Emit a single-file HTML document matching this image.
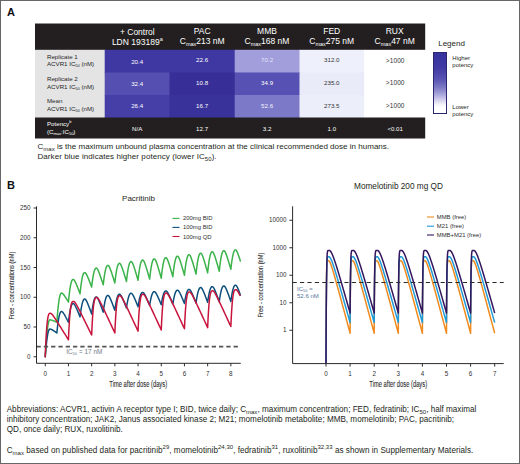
<!DOCTYPE html>
<html><head><meta charset="utf-8"><title>Figure</title>
<style>
html,body{margin:0;padding:0;background:#fff;}
body{width:520px;height:464px;position:relative;overflow:hidden;font-family:"Liberation Sans",sans-serif;color:#231f20;}
#frame{position:absolute;left:0;top:0;width:518px;height:462px;border:1px solid #666;}
.abs{position:absolute;white-space:nowrap;}
.pl{font-weight:bold;font-size:11px;line-height:11px;color:#111;}
.ht{position:absolute;color:#fff;font-size:8.5px;line-height:10.25px;text-align:center;width:80px;white-space:nowrap;}
.ht sub,.ht sup{font-size:5.5px;line-height:0;}
.cell{position:absolute;width:60px;font-size:6.15px;line-height:7px;text-align:center;color:#fff;white-space:nowrap;}
.rl{position:absolute;left:47px;font-size:6.15px;line-height:7.5px;color:#1e1e1e;white-space:nowrap;}
.rl sub,.rl sup{font-size:4px;line-height:0;}
.cap{font-size:8px;line-height:10px;color:#231f20;letter-spacing:0.02px;}
.cap sub,.cap sup{font-size:6px;line-height:0;}
.ft{font-size:8.15px;line-height:10.25px;color:#231f20;}
.ft sub,.ft sup{font-size:6px;line-height:0;}
svg{position:absolute;left:0;top:0;}
svg text{font-family:"Liberation Sans",sans-serif;}
sub{vertical-align:-0.3em;}
sup{vertical-align:0.75em;}
.gt{font-size:6.5px;letter-spacing:0.12px;}
</style></head><body>
<div id="frame"></div>
<div class="abs pl" style="left:7px;top:6.5px;">A</div>
<div class="abs pl" style="left:7px;top:179.5px;">B</div>

<!-- table -->
<svg width="520" height="170" viewBox="0 0 520 170">
<rect x="35" y="23.5" width="390.2" height="27" fill="#231f20"/>
<rect x="35" y="49.8" width="70.3" height="69" fill="#e4e4e4"/>
<rect x="104.7" y="49.8" width="65.4" height="23.3" fill="#3f38a3"/>
<rect x="169.5" y="49.8" width="65.8" height="23.3" fill="#3f38a2"/>
<rect x="234.7" y="49.8" width="65.4" height="23.3" fill="#a19edb"/>
<rect x="299.5" y="49.8" width="65.3" height="23.3" fill="#eef0fb"/>
<rect x="364.2" y="49.8" width="63" height="23.3" fill="#fff"/>
<rect x="104.7" y="72.5" width="65.4" height="23.1" fill="#544fb0"/>
<rect x="169.5" y="72.5" width="65.8" height="23.1" fill="#372f97"/>
<rect x="234.7" y="72.5" width="65.4" height="23.1" fill="#5651b2"/>
<rect x="299.5" y="72.5" width="65.3" height="23.1" fill="#e9ebf9"/>
<rect x="364.2" y="72.5" width="63" height="23.1" fill="#fff"/>
<rect x="104.7" y="95" width="65.4" height="23.1" fill="#463fa8"/>
<rect x="169.5" y="95" width="65.8" height="23.1" fill="#3a329b"/>
<rect x="234.7" y="95" width="65.4" height="23.1" fill="#7d79c9"/>
<rect x="299.5" y="95" width="65.3" height="23.1" fill="#eceefa"/>
<rect x="364.2" y="95" width="63" height="23.1" fill="#fff"/>
<rect x="35" y="117.5" width="390.2" height="21" fill="#231f20"/>
</svg>
<div class="ht" style="left:97.3px;top:26.6px;">+ Control<br>LDN 193189<sup>a</sup></div>
<div class="ht" style="left:162.2px;top:25.6px;">PAC<br>C<sub>max</sub>213 nM</div>
<div class="ht" style="left:227.0px;top:25.6px;">MMB<br>C<sub>max</sub>168 nM</div>
<div class="ht" style="left:291.7px;top:25.6px;">FED<br>C<sub>max</sub>275 nM</div>
<div class="ht" style="left:354.7px;top:25.6px;">RUX<br>C<sub>max</sub>47 nM</div>
<div class="rl" style="top:52.85px;">Replicate 1<br>ACVR1 IC<sub>50</sub> (nM)</div>
<div class="rl" style="top:75.1px;">Replicate 2<br>ACVR1 IC<sub>50</sub> (nM)</div>
<div class="rl" style="top:97.35px;">Mean<br>ACVR1 IC<sub>50</sub> (nM)</div>
<div class="cell" style="left:107.2px;top:58.25px;color:#fff;">20.4</div>
<div class="cell" style="left:172.1px;top:56.40px;color:#fff;">22.6</div>
<div class="cell" style="left:237.1px;top:56.20px;color:#e6e4fa;">70.2</div>
<div class="cell" style="left:301.8px;top:56.20px;color:#333;">312.0</div>
<div class="cell gt" style="left:365.2px;top:56.50px;color:#333;">&gt;1000</div>
<div class="cell" style="left:107.2px;top:80.25px;color:#fff;">32.4</div>
<div class="cell" style="left:172.1px;top:79.00px;color:#fff;">10.8</div>
<div class="cell" style="left:237.1px;top:79.10px;color:#fff;">34.9</div>
<div class="cell" style="left:301.8px;top:79.10px;color:#333;">235.0</div>
<div class="cell gt" style="left:365.2px;top:79.40px;color:#333;">&gt;1000</div>
<div class="cell" style="left:107.2px;top:102.25px;color:#fff;">26.4</div>
<div class="cell" style="left:172.1px;top:101.50px;color:#fff;">16.7</div>
<div class="cell" style="left:237.1px;top:101.60px;color:#f4f3ff;">52.6</div>
<div class="cell" style="left:301.8px;top:101.60px;color:#333;">273.5</div>
<div class="cell gt" style="left:365.2px;top:101.90px;color:#333;">&gt;1000</div>
<div class="rl" style="top:120.2px;color:#fff;line-height:8px;">Potency<sup>b</sup><br>(C<sub>max</sub>:IC<sub>50</sub>)</div>
<div class="cell" style="left:107.2px;top:124.80px;">N/A</div>
<div class="cell" style="left:172.1px;top:124.80px;">12.7</div>
<div class="cell" style="left:237.1px;top:124.80px;">3.2</div>
<div class="cell" style="left:301.8px;top:124.80px;">1.0</div>
<div class="cell" style="left:365.2px;top:124.80px;">&lt;0.01</div>

<div class="abs cap" style="left:37.5px;top:142px;">C<sub>max</sub> is the maximum unbound plasma concentration at the clinical recommended dose in humans.<br><span style="letter-spacing:0.07px">Darker blue indicates higher potency (lower IC<sub>50</sub>).</span></div>

<!-- legend -->
<div class="abs" style="left:438.2px;top:38.7px;font-size:8px;line-height:10px;">Legend</div>
<div class="abs" style="left:433.2px;top:51.5px;width:13.8px;height:62.5px;border:0.6px solid #2a2670;box-sizing:border-box;background:linear-gradient(to bottom,#38329e 0%,#403aa4 25%,#5b56b4 45%,#8b88cd 62%,#c7c5e9 76%,#f4f4fb 86%,#ffffff 90%,#ffffff 100%);"></div>
<div class="abs" style="left:452.3px;top:55.2px;font-size:6px;line-height:7.2px;color:#231f20;">Higher<br>potency</div>
<div class="abs" style="left:452.3px;top:104px;font-size:6px;line-height:7.2px;color:#231f20;">Lower<br>potency</div>

<!-- charts -->
<svg width="520" height="464" viewBox="0 0 520 464">
 <!-- chart A -->
 <text x="138.5" y="200.6" font-size="8" text-anchor="middle" fill="#231f20">Pacritinib</text>
 <g fill="none" stroke-linejoin="round" stroke-linecap="round" stroke-width="1.5">
  <path d="M45.25 356.75 L45.37 354.75 L45.48 352.81 L45.60 350.94 L45.71 349.12 L45.83 347.36 L45.95 345.66 L46.06 344.02 L46.18 342.44 L46.29 340.92 L46.41 339.45 L46.53 338.04 L46.64 336.69 L46.76 335.40 L46.87 334.16 L46.99 332.98 L47.11 331.85 L47.22 330.78 L47.34 329.76 L47.45 328.80 L47.57 327.89 L47.69 327.03 L47.80 326.23 L47.92 325.48 L48.03 324.77 L48.15 324.12 L48.27 323.52 L48.38 322.97 L48.50 322.47 L48.61 322.01 L48.73 321.61 L48.85 321.25 L48.96 320.93 L49.08 320.66 L49.19 320.43 L49.31 320.24 L49.43 320.09 L49.54 319.98 L49.66 319.91 L49.77 319.87 L49.89 319.86 L50.06 319.86 L50.24 319.87 L50.41 319.89 L50.59 319.91 L50.76 319.94 L50.93 319.97 L51.11 320.01 L51.28 320.05 L51.46 320.10 L51.63 320.15 L51.80 320.20 L51.98 320.26 L52.15 320.32 L52.33 320.37 L52.50 320.44 L52.67 320.50 L52.85 320.56 L53.02 320.63 L53.20 320.70 L53.37 320.77 L53.54 320.83 L53.72 320.90 L53.89 320.97 L54.07 321.05 L54.24 321.12 L54.41 321.19 L54.59 321.26 L54.76 321.34 L54.94 321.41 L55.11 321.48 L55.28 321.56 L55.46 321.63 L55.63 321.71 L55.81 321.78 L55.98 321.86 L56.15 321.94 L56.33 322.01 L56.50 322.09 L56.68 322.16 L56.85 322.24 L56.85 322.24 L56.97 320.66 L57.08 319.13 L57.20 317.64 L57.31 316.21 L57.43 314.82 L57.55 313.48 L57.66 312.18 L57.78 310.93 L57.89 309.73 L58.01 308.57 L58.13 307.45 L58.24 306.39 L58.36 305.36 L58.47 304.39 L58.59 303.45 L58.71 302.56 L58.82 301.71 L58.94 300.91 L59.05 300.15 L59.17 299.43 L59.29 298.75 L59.40 298.12 L59.52 297.52 L59.63 296.97 L59.75 296.45 L59.87 295.98 L59.98 295.54 L60.10 295.15 L60.21 294.79 L60.33 294.47 L60.45 294.18 L60.56 293.93 L60.68 293.72 L60.79 293.53 L60.91 293.39 L61.03 293.27 L61.14 293.18 L61.26 293.13 L61.37 293.09 L61.49 293.08 L61.66 293.10 L61.84 293.13 L62.01 293.20 L62.19 293.28 L62.36 293.38 L62.53 293.51 L62.71 293.65 L62.88 293.81 L63.06 293.98 L63.23 294.17 L63.40 294.37 L63.58 294.58 L63.75 294.79 L63.93 295.02 L64.10 295.25 L64.27 295.48 L64.45 295.73 L64.62 295.97 L64.80 296.23 L64.97 296.48 L65.14 296.74 L65.32 297.00 L65.49 297.27 L65.67 297.53 L65.84 297.80 L66.01 298.07 L66.19 298.35 L66.36 298.62 L66.54 298.90 L66.71 299.18 L66.88 299.46 L67.06 299.74 L67.23 300.02 L67.41 300.30 L67.58 300.58 L67.75 300.87 L67.93 301.15 L68.10 301.44 L68.28 301.72 L68.45 302.01 L68.45 302.01 L68.57 300.79 L68.68 299.60 L68.80 298.45 L68.91 297.33 L69.03 296.25 L69.15 295.21 L69.26 294.21 L69.38 293.24 L69.49 292.31 L69.61 291.41 L69.73 290.54 L69.84 289.72 L69.96 288.92 L70.07 288.16 L70.19 287.44 L70.31 286.75 L70.42 286.09 L70.54 285.47 L70.65 284.88 L70.77 284.32 L70.89 283.80 L71.00 283.30 L71.12 282.84 L71.23 282.41 L71.35 282.01 L71.47 281.65 L71.58 281.31 L71.70 281.00 L71.81 280.72 L71.93 280.47 L72.05 280.25 L72.16 280.06 L72.28 279.89 L72.39 279.75 L72.51 279.63 L72.63 279.54 L72.74 279.48 L72.86 279.43 L72.97 279.41 L73.09 279.40 L73.26 279.42 L73.44 279.48 L73.61 279.58 L73.79 279.71 L73.96 279.88 L74.13 280.08 L74.31 280.31 L74.48 280.56 L74.66 280.84 L74.83 281.14 L75.00 281.45 L75.18 281.78 L75.35 282.13 L75.53 282.49 L75.70 282.86 L75.87 283.24 L76.05 283.63 L76.22 284.02 L76.40 284.42 L76.57 284.83 L76.74 285.25 L76.92 285.67 L77.09 286.09 L77.27 286.52 L77.44 286.95 L77.61 287.38 L77.79 287.82 L77.96 288.26 L78.14 288.70 L78.31 289.15 L78.48 289.59 L78.66 290.04 L78.83 290.49 L79.01 290.94 L79.18 291.40 L79.35 291.85 L79.53 292.31 L79.70 292.76 L79.88 293.22 L80.05 293.68 L80.05 293.68 L80.17 292.54 L80.28 291.43 L80.40 290.36 L80.51 289.32 L80.63 288.32 L80.75 287.35 L80.86 286.41 L80.98 285.51 L81.09 284.64 L81.21 283.80 L81.33 283.00 L81.44 282.23 L81.56 281.49 L81.67 280.78 L81.79 280.11 L81.91 279.46 L82.02 278.85 L82.14 278.27 L82.25 277.72 L82.37 277.20 L82.49 276.71 L82.60 276.25 L82.72 275.82 L82.83 275.42 L82.95 275.05 L83.07 274.71 L83.18 274.39 L83.30 274.11 L83.41 273.85 L83.53 273.61 L83.65 273.41 L83.76 273.23 L83.88 273.07 L83.99 272.94 L84.11 272.83 L84.23 272.75 L84.34 272.69 L84.46 272.65 L84.57 272.62 L84.69 272.62 L84.86 272.64 L85.04 272.70 L85.21 272.79 L85.39 272.93 L85.56 273.10 L85.73 273.30 L85.91 273.53 L86.08 273.78 L86.26 274.06 L86.43 274.36 L86.60 274.68 L86.78 275.01 L86.95 275.36 L87.13 275.72 L87.30 276.09 L87.47 276.47 L87.65 276.86 L87.82 277.26 L88.00 277.66 L88.17 278.07 L88.34 278.49 L88.52 278.91 L88.69 279.33 L88.87 279.76 L89.04 280.20 L89.21 280.63 L89.39 281.07 L89.56 281.51 L89.74 281.96 L89.91 282.40 L90.08 282.85 L90.26 283.30 L90.43 283.75 L90.61 284.21 L90.78 284.66 L90.95 285.12 L91.13 285.58 L91.30 286.04 L91.48 286.50 L91.65 286.96 L91.65 286.96 L91.77 285.93 L91.88 284.94 L92.00 283.98 L92.11 283.05 L92.23 282.16 L92.35 281.29 L92.46 280.45 L92.58 279.64 L92.69 278.86 L92.81 278.11 L92.93 277.39 L93.04 276.70 L93.16 276.04 L93.27 275.41 L93.39 274.80 L93.51 274.23 L93.62 273.68 L93.74 273.16 L93.85 272.67 L93.97 272.20 L94.09 271.76 L94.20 271.35 L94.32 270.97 L94.43 270.61 L94.55 270.27 L94.67 269.97 L94.78 269.69 L94.90 269.43 L95.01 269.20 L95.13 268.99 L95.25 268.80 L95.36 268.64 L95.48 268.50 L95.59 268.39 L95.71 268.29 L95.83 268.21 L95.94 268.16 L96.06 268.12 L96.17 268.10 L96.29 268.10 L96.46 268.12 L96.64 268.19 L96.81 268.30 L96.99 268.46 L97.16 268.65 L97.33 268.89 L97.51 269.15 L97.68 269.45 L97.86 269.77 L98.03 270.12 L98.20 270.49 L98.38 270.88 L98.55 271.28 L98.73 271.70 L98.90 272.13 L99.07 272.57 L99.25 273.03 L99.42 273.49 L99.60 273.96 L99.77 274.43 L99.94 274.92 L100.12 275.41 L100.29 275.90 L100.47 276.40 L100.64 276.90 L100.81 277.41 L100.99 277.92 L101.16 278.43 L101.34 278.95 L101.51 279.46 L101.68 279.99 L101.86 280.51 L102.03 281.03 L102.21 281.56 L102.38 282.09 L102.55 282.62 L102.73 283.15 L102.90 283.68 L103.08 284.22 L103.25 284.75 L103.25 284.75 L103.37 283.71 L103.48 282.69 L103.60 281.71 L103.71 280.75 L103.83 279.83 L103.95 278.94 L104.06 278.08 L104.18 277.25 L104.29 276.45 L104.41 275.69 L104.53 274.95 L104.64 274.24 L104.76 273.56 L104.87 272.91 L104.99 272.29 L105.11 271.70 L105.22 271.14 L105.34 270.61 L105.45 270.10 L105.57 269.63 L105.69 269.18 L105.80 268.76 L105.92 268.36 L106.03 267.99 L106.15 267.65 L106.27 267.34 L106.38 267.05 L106.50 266.79 L106.61 266.55 L106.73 266.33 L106.85 266.14 L106.96 265.98 L107.08 265.84 L107.19 265.72 L107.31 265.62 L107.43 265.54 L107.54 265.48 L107.66 265.44 L107.77 265.42 L107.89 265.42 L108.06 265.44 L108.24 265.52 L108.41 265.64 L108.59 265.80 L108.76 266.01 L108.93 266.25 L109.11 266.53 L109.28 266.85 L109.46 267.19 L109.63 267.55 L109.80 267.94 L109.98 268.35 L110.15 268.77 L110.33 269.22 L110.50 269.67 L110.67 270.14 L110.85 270.61 L111.02 271.10 L111.20 271.59 L111.37 272.10 L111.54 272.60 L111.72 273.12 L111.89 273.64 L112.07 274.17 L112.24 274.70 L112.41 275.23 L112.59 275.77 L112.76 276.31 L112.94 276.85 L113.11 277.40 L113.28 277.95 L113.46 278.50 L113.63 279.05 L113.81 279.60 L113.98 280.16 L114.15 280.72 L114.33 281.28 L114.50 281.84 L114.68 282.41 L114.85 282.97 L114.85 282.97 L114.97 281.91 L115.08 280.87 L115.20 279.88 L115.31 278.91 L115.43 277.97 L115.55 277.07 L115.66 276.19 L115.78 275.35 L115.89 274.54 L116.01 273.76 L116.13 273.01 L116.24 272.29 L116.36 271.60 L116.47 270.95 L116.59 270.32 L116.71 269.72 L116.82 269.15 L116.94 268.61 L117.05 268.09 L117.17 267.61 L117.29 267.15 L117.40 266.72 L117.52 266.32 L117.63 265.95 L117.75 265.60 L117.87 265.28 L117.98 264.99 L118.10 264.72 L118.21 264.48 L118.33 264.27 L118.45 264.07 L118.56 263.90 L118.68 263.76 L118.79 263.64 L118.91 263.54 L119.03 263.46 L119.14 263.40 L119.26 263.36 L119.37 263.34 L119.49 263.34 L119.66 263.36 L119.84 263.44 L120.01 263.56 L120.19 263.73 L120.36 263.94 L120.53 264.20 L120.71 264.49 L120.88 264.81 L121.06 265.16 L121.23 265.54 L121.40 265.94 L121.58 266.37 L121.75 266.81 L121.93 267.26 L122.10 267.73 L122.27 268.21 L122.45 268.71 L122.62 269.21 L122.80 269.72 L122.97 270.24 L123.14 270.77 L123.32 271.30 L123.49 271.84 L123.67 272.38 L123.84 272.93 L124.01 273.48 L124.19 274.03 L124.36 274.59 L124.54 275.16 L124.71 275.72 L124.88 276.29 L125.06 276.86 L125.23 277.43 L125.41 278.00 L125.58 278.58 L125.75 279.16 L125.93 279.74 L126.10 280.32 L126.28 280.90 L126.45 281.48 L126.45 281.48 L126.57 280.40 L126.68 279.36 L126.80 278.34 L126.91 277.36 L127.03 276.41 L127.15 275.49 L127.26 274.60 L127.38 273.75 L127.49 272.93 L127.61 272.14 L127.73 271.37 L127.84 270.64 L127.96 269.95 L128.07 269.28 L128.19 268.64 L128.31 268.03 L128.42 267.45 L128.54 266.90 L128.65 266.38 L128.77 265.89 L128.89 265.43 L129.00 264.99 L129.12 264.58 L129.23 264.21 L129.35 263.85 L129.47 263.53 L129.58 263.23 L129.70 262.96 L129.81 262.71 L129.93 262.49 L130.05 262.30 L130.16 262.13 L130.28 261.98 L130.39 261.86 L130.51 261.76 L130.63 261.68 L130.74 261.62 L130.86 261.58 L130.97 261.56 L131.09 261.55 L131.26 261.58 L131.44 261.65 L131.61 261.78 L131.79 261.96 L131.96 262.18 L132.13 262.44 L132.31 262.74 L132.48 263.08 L132.66 263.44 L132.83 263.83 L133.00 264.24 L133.18 264.68 L133.35 265.13 L133.53 265.61 L133.70 266.09 L133.87 266.59 L134.05 267.10 L134.22 267.62 L134.40 268.15 L134.57 268.68 L134.74 269.22 L134.92 269.77 L135.09 270.33 L135.27 270.89 L135.44 271.46 L135.61 272.03 L135.79 272.60 L135.96 273.18 L136.14 273.76 L136.31 274.34 L136.48 274.93 L136.66 275.52 L136.83 276.11 L137.01 276.70 L137.18 277.29 L137.35 277.89 L137.53 278.49 L137.70 279.09 L137.88 279.69 L138.05 280.29 L138.05 280.29 L138.17 279.20 L138.28 278.13 L138.40 277.10 L138.51 276.11 L138.63 275.14 L138.75 274.21 L138.86 273.31 L138.98 272.44 L139.09 271.61 L139.21 270.81 L139.33 270.03 L139.44 269.29 L139.56 268.58 L139.67 267.90 L139.79 267.26 L139.91 266.64 L140.02 266.05 L140.14 265.49 L140.25 264.96 L140.37 264.47 L140.49 264.00 L140.60 263.55 L140.72 263.14 L140.83 262.76 L140.95 262.40 L141.07 262.07 L141.18 261.77 L141.30 261.49 L141.41 261.24 L141.53 261.02 L141.65 260.82 L141.76 260.65 L141.88 260.50 L141.99 260.37 L142.11 260.27 L142.23 260.19 L142.34 260.13 L142.46 260.09 L142.57 260.07 L142.69 260.06 L142.86 260.09 L143.04 260.17 L143.21 260.30 L143.39 260.48 L143.56 260.70 L143.73 260.97 L143.91 261.27 L144.08 261.61 L144.26 261.98 L144.43 262.38 L144.60 262.80 L144.78 263.24 L144.95 263.70 L145.13 264.18 L145.30 264.67 L145.47 265.18 L145.65 265.70 L145.82 266.23 L146.00 266.76 L146.17 267.31 L146.34 267.86 L146.52 268.42 L146.69 268.98 L146.87 269.55 L147.04 270.13 L147.21 270.71 L147.39 271.29 L147.56 271.87 L147.74 272.46 L147.91 273.06 L148.08 273.65 L148.26 274.25 L148.43 274.85 L148.61 275.45 L148.78 276.06 L148.95 276.66 L149.13 277.27 L149.30 277.88 L149.48 278.49 L149.65 279.10 L149.65 279.10 L149.77 278.01 L149.88 276.94 L150.00 275.91 L150.11 274.92 L150.23 273.95 L150.35 273.02 L150.46 272.12 L150.58 271.25 L150.69 270.42 L150.81 269.62 L150.93 268.84 L151.04 268.10 L151.16 267.39 L151.27 266.71 L151.39 266.07 L151.51 265.45 L151.62 264.86 L151.74 264.30 L151.85 263.77 L151.97 263.28 L152.09 262.81 L152.20 262.36 L152.32 261.95 L152.43 261.57 L152.55 261.21 L152.67 260.88 L152.78 260.58 L152.90 260.30 L153.01 260.05 L153.13 259.83 L153.25 259.63 L153.36 259.46 L153.48 259.31 L153.59 259.18 L153.71 259.08 L153.83 259.00 L153.94 258.94 L154.06 258.90 L154.17 258.88 L154.29 258.87 L154.46 258.90 L154.64 258.98 L154.81 259.11 L154.99 259.29 L155.16 259.52 L155.33 259.79 L155.51 260.10 L155.68 260.45 L155.86 260.82 L156.03 261.22 L156.20 261.65 L156.38 262.10 L156.55 262.57 L156.73 263.06 L156.90 263.56 L157.07 264.07 L157.25 264.60 L157.42 265.13 L157.60 265.68 L157.77 266.23 L157.94 266.79 L158.12 267.36 L158.29 267.93 L158.47 268.51 L158.64 269.09 L158.81 269.68 L158.99 270.27 L159.16 270.87 L159.34 271.47 L159.51 272.07 L159.68 272.67 L159.86 273.28 L160.03 273.89 L160.21 274.50 L160.38 275.12 L160.55 275.73 L160.73 276.35 L160.90 276.97 L161.08 277.59 L161.25 278.21 L161.25 278.21 L161.37 277.10 L161.48 276.02 L161.60 274.97 L161.71 273.96 L161.83 272.98 L161.95 272.04 L162.06 271.13 L162.18 270.25 L162.29 269.40 L162.41 268.58 L162.53 267.80 L162.64 267.05 L162.76 266.33 L162.87 265.64 L162.99 264.98 L163.11 264.35 L163.22 263.76 L163.34 263.19 L163.45 262.66 L163.57 262.15 L163.69 261.67 L163.80 261.23 L163.92 260.81 L164.03 260.42 L164.15 260.05 L164.27 259.72 L164.38 259.41 L164.50 259.13 L164.61 258.88 L164.73 258.65 L164.85 258.45 L164.96 258.28 L165.08 258.13 L165.19 258.00 L165.31 257.89 L165.43 257.81 L165.54 257.75 L165.66 257.71 L165.77 257.69 L165.89 257.68 L166.06 257.71 L166.24 257.79 L166.41 257.92 L166.59 258.10 L166.76 258.32 L166.93 258.59 L167.11 258.89 L167.28 259.23 L167.46 259.60 L167.63 260.00 L167.80 260.42 L167.98 260.86 L168.15 261.32 L168.33 261.80 L168.50 262.29 L168.67 262.80 L168.85 263.32 L169.02 263.85 L169.20 264.38 L169.37 264.93 L169.54 265.48 L169.72 266.04 L169.89 266.60 L170.07 267.17 L170.24 267.75 L170.41 268.33 L170.59 268.91 L170.76 269.49 L170.94 270.08 L171.11 270.68 L171.28 271.27 L171.46 271.87 L171.63 272.47 L171.81 273.07 L171.98 273.68 L172.15 274.28 L172.33 274.89 L172.50 275.50 L172.68 276.11 L172.85 276.72 L172.85 276.72 L172.97 275.61 L173.08 274.53 L173.20 273.49 L173.31 272.48 L173.43 271.50 L173.55 270.55 L173.66 269.64 L173.78 268.76 L173.89 267.91 L174.01 267.10 L174.13 266.31 L174.24 265.56 L174.36 264.84 L174.47 264.15 L174.59 263.49 L174.71 262.87 L174.82 262.27 L174.94 261.70 L175.05 261.17 L175.17 260.66 L175.29 260.19 L175.40 259.74 L175.52 259.32 L175.63 258.93 L175.75 258.57 L175.87 258.23 L175.98 257.93 L176.10 257.65 L176.21 257.39 L176.33 257.17 L176.45 256.97 L176.56 256.79 L176.68 256.64 L176.79 256.51 L176.91 256.41 L177.03 256.32 L177.14 256.26 L177.26 256.22 L177.37 256.20 L177.49 256.19 L177.66 256.22 L177.84 256.30 L178.01 256.43 L178.19 256.61 L178.36 256.83 L178.53 257.10 L178.71 257.41 L178.88 257.74 L179.06 258.11 L179.23 258.51 L179.40 258.93 L179.58 259.37 L179.75 259.84 L179.93 260.31 L180.10 260.81 L180.27 261.31 L180.45 261.83 L180.62 262.36 L180.80 262.89 L180.97 263.44 L181.14 263.99 L181.32 264.55 L181.49 265.11 L181.67 265.68 L181.84 266.26 L182.01 266.84 L182.19 267.42 L182.36 268.01 L182.54 268.60 L182.71 269.19 L182.88 269.78 L183.06 270.38 L183.23 270.98 L183.41 271.58 L183.58 272.19 L183.75 272.80 L183.93 273.40 L184.10 274.01 L184.28 274.62 L184.45 275.24 L184.45 275.24 L184.57 274.12 L184.68 273.04 L184.80 272.00 L184.91 270.99 L185.03 270.01 L185.15 269.06 L185.26 268.15 L185.38 267.27 L185.49 266.42 L185.61 265.61 L185.73 264.83 L185.84 264.07 L185.96 263.35 L186.07 262.66 L186.19 262.01 L186.31 261.38 L186.42 260.78 L186.54 260.22 L186.65 259.68 L186.77 259.18 L186.89 258.70 L187.00 258.25 L187.12 257.83 L187.23 257.44 L187.35 257.08 L187.47 256.75 L187.58 256.44 L187.70 256.16 L187.81 255.91 L187.93 255.68 L188.05 255.48 L188.16 255.30 L188.28 255.15 L188.39 255.02 L188.51 254.92 L188.63 254.84 L188.74 254.78 L188.86 254.74 L188.97 254.71 L189.09 254.71 L189.26 254.73 L189.44 254.82 L189.61 254.95 L189.79 255.13 L189.96 255.36 L190.13 255.63 L190.31 255.94 L190.48 256.28 L190.66 256.66 L190.83 257.06 L191.00 257.49 L191.18 257.94 L191.35 258.41 L191.53 258.89 L191.70 259.39 L191.87 259.91 L192.05 260.43 L192.22 260.97 L192.40 261.51 L192.57 262.07 L192.74 262.63 L192.92 263.19 L193.09 263.77 L193.27 264.35 L193.44 264.93 L193.61 265.52 L193.79 266.11 L193.96 266.70 L194.14 267.30 L194.31 267.90 L194.48 268.51 L194.66 269.12 L194.83 269.73 L195.01 270.34 L195.18 270.95 L195.35 271.57 L195.53 272.18 L195.70 272.80 L195.88 273.42 L196.05 274.05 L196.05 274.05 L196.17 272.92 L196.28 271.82 L196.40 270.76 L196.51 269.74 L196.63 268.74 L196.75 267.78 L196.86 266.86 L196.98 265.97 L197.09 265.11 L197.21 264.28 L197.33 263.48 L197.44 262.72 L197.56 261.99 L197.67 261.29 L197.79 260.62 L197.91 259.99 L198.02 259.38 L198.14 258.81 L198.25 258.27 L198.37 257.75 L198.49 257.27 L198.60 256.81 L198.72 256.39 L198.83 255.99 L198.95 255.63 L199.07 255.29 L199.18 254.98 L199.30 254.69 L199.41 254.44 L199.53 254.21 L199.65 254.00 L199.76 253.82 L199.88 253.67 L199.99 253.54 L200.11 253.43 L200.23 253.35 L200.34 253.29 L200.46 253.25 L200.57 253.23 L200.69 253.22 L200.86 253.25 L201.04 253.33 L201.21 253.46 L201.39 253.65 L201.56 253.88 L201.73 254.15 L201.91 254.47 L202.08 254.82 L202.26 255.20 L202.43 255.61 L202.60 256.04 L202.78 256.50 L202.95 256.98 L203.13 257.47 L203.30 257.98 L203.47 258.50 L203.65 259.03 L203.82 259.58 L204.00 260.13 L204.17 260.69 L204.34 261.26 L204.52 261.84 L204.69 262.42 L204.87 263.01 L205.04 263.60 L205.21 264.20 L205.39 264.80 L205.56 265.40 L205.74 266.01 L205.91 266.62 L206.08 267.23 L206.26 267.85 L206.43 268.47 L206.61 269.09 L206.78 269.71 L206.95 270.34 L207.13 270.97 L207.30 271.59 L207.48 272.22 L207.65 272.86 L207.65 272.86 L207.77 271.71 L207.88 270.60 L208.00 269.53 L208.11 268.48 L208.23 267.48 L208.35 266.51 L208.46 265.57 L208.58 264.66 L208.69 263.79 L208.81 262.95 L208.93 262.14 L209.04 261.37 L209.16 260.63 L209.27 259.92 L209.39 259.24 L209.51 258.60 L209.62 257.98 L209.74 257.40 L209.85 256.85 L209.97 256.33 L210.09 255.84 L210.20 255.38 L210.32 254.95 L210.43 254.55 L210.55 254.17 L210.67 253.83 L210.78 253.51 L210.90 253.23 L211.01 252.97 L211.13 252.73 L211.25 252.53 L211.36 252.34 L211.48 252.19 L211.59 252.06 L211.71 251.95 L211.83 251.87 L211.94 251.80 L212.06 251.76 L212.17 251.74 L212.29 251.73 L212.46 251.76 L212.64 251.84 L212.81 251.97 L212.99 252.16 L213.16 252.39 L213.33 252.66 L213.51 252.97 L213.68 253.32 L213.86 253.70 L214.03 254.11 L214.20 254.54 L214.38 254.99 L214.55 255.46 L214.73 255.95 L214.90 256.46 L215.07 256.98 L215.25 257.51 L215.42 258.05 L215.60 258.60 L215.77 259.16 L215.94 259.72 L216.12 260.30 L216.29 260.88 L216.47 261.46 L216.64 262.05 L216.81 262.64 L216.99 263.24 L217.16 263.84 L217.34 264.44 L217.51 265.05 L217.68 265.66 L217.86 266.27 L218.03 266.89 L218.21 267.51 L218.38 268.13 L218.55 268.75 L218.73 269.37 L218.90 270.00 L219.08 270.62 L219.25 271.25 L219.25 271.25 L219.37 270.13 L219.48 269.05 L219.60 268.00 L219.71 266.99 L219.83 266.01 L219.95 265.06 L220.06 264.14 L220.18 263.26 L220.29 262.41 L220.41 261.59 L220.53 260.81 L220.64 260.05 L220.76 259.33 L220.87 258.64 L220.99 257.98 L221.11 257.35 L221.22 256.75 L221.34 256.19 L221.45 255.65 L221.57 255.14 L221.69 254.66 L221.80 254.22 L221.92 253.80 L222.03 253.40 L222.15 253.04 L222.27 252.71 L222.38 252.40 L222.50 252.12 L222.61 251.86 L222.73 251.64 L222.85 251.43 L222.96 251.26 L223.08 251.11 L223.19 250.98 L223.31 250.87 L223.43 250.79 L223.54 250.73 L223.66 250.69 L223.77 250.67 L223.89 250.66 L224.06 250.69 L224.24 250.77 L224.41 250.89 L224.59 251.07 L224.76 251.29 L224.93 251.55 L225.11 251.85 L225.28 252.18 L225.46 252.54 L225.63 252.93 L225.80 253.34 L225.98 253.77 L226.15 254.22 L226.33 254.69 L226.50 255.17 L226.67 255.67 L226.85 256.17 L227.02 256.69 L227.20 257.21 L227.37 257.75 L227.54 258.29 L227.72 258.83 L227.89 259.39 L228.07 259.94 L228.24 260.51 L228.41 261.07 L228.59 261.64 L228.76 262.22 L228.94 262.79 L229.11 263.37 L229.28 263.95 L229.46 264.54 L229.63 265.13 L229.81 265.71 L229.98 266.31 L230.15 266.90 L230.33 267.49 L230.50 268.09 L230.68 268.69 L230.85 269.29 L230.85 269.29 L230.97 268.23 L231.08 267.22 L231.20 266.23 L231.31 265.27 L231.43 264.35 L231.55 263.45 L231.66 262.59 L231.78 261.76 L231.89 260.96 L232.01 260.19 L232.13 259.45 L232.24 258.74 L232.36 258.06 L232.47 257.41 L232.59 256.79 L232.71 256.19 L232.82 255.63 L232.94 255.09 L233.05 254.59 L233.17 254.11 L233.29 253.66 L233.40 253.24 L233.52 252.84 L233.63 252.47 L233.75 252.13 L233.87 251.81 L233.98 251.52 L234.10 251.26 L234.21 251.02 L234.33 250.81 L234.45 250.62 L234.56 250.45 L234.68 250.31 L234.79 250.19 L234.91 250.09 L235.03 250.01 L235.14 249.95 L235.26 249.91 L235.37 249.89 L235.49 249.89 L235.66 249.91 L235.84 249.99 L236.01 250.11 L236.19 250.28 L236.36 250.49 L236.53 250.74 L236.71 251.03 L236.88 251.35 L237.06 251.69 L237.23 252.07 L237.40 252.46 L237.58 252.88 L237.75 253.31 L237.93 253.76 L238.10 254.23 L238.27 254.70 L238.45 255.19 L238.62 255.69 L238.80 256.19 L238.97 256.70 L239.14 257.22 L239.32 257.75 L239.49 258.28 L239.67 258.81 L239.84 259.35 L240.01 259.90 L240.19 260.45 L240.36 261.00" stroke="#3bb34a"/>
  <path d="M45.25 356.75 L45.37 355.25 L45.48 353.80 L45.60 352.39 L45.71 351.03 L45.83 349.71 L45.95 348.43 L46.06 347.20 L46.18 346.02 L46.29 344.87 L46.41 343.78 L46.53 342.72 L46.64 341.71 L46.76 340.74 L46.87 339.81 L46.99 338.92 L47.11 338.08 L47.22 337.27 L47.34 336.51 L47.45 335.79 L47.57 335.10 L47.69 334.46 L47.80 333.86 L47.92 333.29 L48.03 332.77 L48.15 332.28 L48.27 331.83 L48.38 331.42 L48.50 331.04 L48.61 330.70 L48.73 330.39 L48.85 330.12 L48.96 329.88 L49.08 329.68 L49.19 329.51 L49.31 329.37 L49.43 329.26 L49.54 329.18 L49.66 329.12 L49.77 329.09 L49.89 329.08 L50.06 329.09 L50.24 329.10 L50.41 329.13 L50.59 329.17 L50.76 329.21 L50.93 329.27 L51.11 329.33 L51.28 329.40 L51.46 329.47 L51.63 329.55 L51.80 329.64 L51.98 329.73 L52.15 329.82 L52.33 329.92 L52.50 330.02 L52.67 330.12 L52.85 330.23 L53.02 330.33 L53.20 330.44 L53.37 330.55 L53.54 330.67 L53.72 330.78 L53.89 330.89 L54.07 331.01 L54.24 331.13 L54.41 331.24 L54.59 331.36 L54.76 331.48 L54.94 331.60 L55.11 331.72 L55.28 331.84 L55.46 331.96 L55.63 332.09 L55.81 332.21 L55.98 332.33 L56.15 332.45 L56.33 332.58 L56.50 332.70 L56.68 332.83 L56.85 332.95 L56.85 332.95 L56.97 331.79 L57.08 330.66 L57.20 329.57 L57.31 328.52 L57.43 327.50 L57.55 326.51 L57.66 325.56 L57.78 324.64 L57.89 323.76 L58.01 322.91 L58.13 322.09 L58.24 321.30 L58.36 320.55 L58.47 319.83 L58.59 319.15 L58.71 318.49 L58.82 317.87 L58.94 317.28 L59.05 316.72 L59.17 316.19 L59.29 315.69 L59.40 315.23 L59.52 314.79 L59.63 314.38 L59.75 314.01 L59.87 313.66 L59.98 313.34 L60.10 313.05 L60.21 312.78 L60.33 312.54 L60.45 312.33 L60.56 312.15 L60.68 311.99 L60.79 311.86 L60.91 311.75 L61.03 311.67 L61.14 311.60 L61.26 311.56 L61.37 311.54 L61.49 311.53 L61.66 311.54 L61.84 311.59 L62.01 311.66 L62.19 311.76 L62.36 311.89 L62.53 312.04 L62.71 312.21 L62.88 312.40 L63.06 312.61 L63.23 312.83 L63.40 313.07 L63.58 313.32 L63.75 313.58 L63.93 313.85 L64.10 314.12 L64.27 314.41 L64.45 314.70 L64.62 315.00 L64.80 315.30 L64.97 315.61 L65.14 315.92 L65.32 316.23 L65.49 316.55 L65.67 316.87 L65.84 317.19 L66.01 317.52 L66.19 317.84 L66.36 318.17 L66.54 318.51 L66.71 318.84 L66.88 319.17 L67.06 319.51 L67.23 319.85 L67.41 320.19 L67.58 320.53 L67.75 320.87 L67.93 321.21 L68.10 321.55 L68.28 321.90 L68.45 322.24 L68.45 322.24 L68.57 321.22 L68.68 320.24 L68.80 319.29 L68.91 318.36 L69.03 317.47 L69.15 316.61 L69.26 315.77 L69.38 314.97 L69.49 314.20 L69.61 313.45 L69.73 312.74 L69.84 312.05 L69.96 311.39 L70.07 310.76 L70.19 310.16 L70.31 309.59 L70.42 309.04 L70.54 308.53 L70.65 308.04 L70.77 307.58 L70.89 307.14 L71.00 306.73 L71.12 306.35 L71.23 305.99 L71.35 305.66 L71.47 305.36 L71.58 305.08 L71.70 304.82 L71.81 304.59 L71.93 304.39 L72.05 304.20 L72.16 304.04 L72.28 303.90 L72.39 303.79 L72.51 303.69 L72.63 303.62 L72.74 303.56 L72.86 303.52 L72.97 303.50 L73.09 303.50 L73.26 303.52 L73.44 303.57 L73.61 303.66 L73.79 303.79 L73.96 303.95 L74.13 304.13 L74.31 304.35 L74.48 304.59 L74.66 304.85 L74.83 305.13 L75.00 305.42 L75.18 305.73 L75.35 306.06 L75.53 306.39 L75.70 306.74 L75.87 307.10 L76.05 307.46 L76.22 307.83 L76.40 308.21 L76.57 308.59 L76.74 308.98 L76.92 309.37 L77.09 309.77 L77.27 310.17 L77.44 310.57 L77.61 310.98 L77.79 311.39 L77.96 311.80 L78.14 312.22 L78.31 312.63 L78.48 313.05 L78.66 313.47 L78.83 313.89 L79.01 314.32 L79.18 314.74 L79.35 315.17 L79.53 315.60 L79.70 316.03 L79.88 316.45 L80.05 316.88 L80.05 316.88 L80.17 315.92 L80.28 314.98 L80.40 314.07 L80.51 313.19 L80.63 312.34 L80.75 311.52 L80.86 310.73 L80.98 309.96 L81.09 309.22 L81.21 308.51 L81.33 307.83 L81.44 307.18 L81.56 306.55 L81.67 305.95 L81.79 305.38 L81.91 304.84 L82.02 304.32 L82.14 303.83 L82.25 303.36 L82.37 302.92 L82.49 302.51 L82.60 302.12 L82.72 301.75 L82.83 301.41 L82.95 301.10 L83.07 300.81 L83.18 300.54 L83.30 300.30 L83.41 300.08 L83.53 299.88 L83.65 299.71 L83.76 299.55 L83.88 299.42 L83.99 299.31 L84.11 299.22 L84.23 299.15 L84.34 299.09 L84.46 299.06 L84.57 299.04 L84.69 299.04 L84.86 299.06 L85.04 299.12 L85.21 299.22 L85.39 299.36 L85.56 299.53 L85.73 299.74 L85.91 299.98 L86.08 300.25 L86.26 300.53 L86.43 300.84 L86.60 301.17 L86.78 301.52 L86.95 301.88 L87.13 302.25 L87.30 302.64 L87.47 303.03 L87.65 303.44 L87.82 303.85 L88.00 304.27 L88.17 304.69 L88.34 305.13 L88.52 305.56 L88.69 306.00 L88.87 306.45 L89.04 306.90 L89.21 307.35 L89.39 307.80 L89.56 308.26 L89.74 308.72 L89.91 309.19 L90.08 309.65 L90.26 310.12 L90.43 310.59 L90.61 311.06 L90.78 311.53 L90.95 312.00 L91.13 312.48 L91.30 312.95 L91.48 313.43 L91.65 313.91 L91.65 313.91 L91.77 312.99 L91.88 312.10 L92.00 311.24 L92.11 310.40 L92.23 309.59 L92.35 308.81 L92.46 308.06 L92.58 307.33 L92.69 306.63 L92.81 305.96 L92.93 305.31 L93.04 304.69 L93.16 304.09 L93.27 303.53 L93.39 302.98 L93.51 302.46 L93.62 301.97 L93.74 301.50 L93.85 301.06 L93.97 300.64 L94.09 300.25 L94.20 299.88 L94.32 299.53 L94.43 299.21 L94.55 298.91 L94.67 298.64 L94.78 298.38 L94.90 298.15 L95.01 297.94 L95.13 297.76 L95.25 297.59 L95.36 297.44 L95.48 297.32 L95.59 297.21 L95.71 297.13 L95.83 297.06 L95.94 297.01 L96.06 296.98 L96.17 296.96 L96.29 296.95 L96.46 296.97 L96.64 297.04 L96.81 297.14 L96.99 297.28 L97.16 297.46 L97.33 297.67 L97.51 297.92 L97.68 298.19 L97.86 298.48 L98.03 298.80 L98.20 299.13 L98.38 299.49 L98.55 299.85 L98.73 300.24 L98.90 300.63 L99.07 301.03 L99.25 301.44 L99.42 301.86 L99.60 302.29 L99.77 302.73 L99.94 303.17 L100.12 303.61 L100.29 304.06 L100.47 304.51 L100.64 304.97 L100.81 305.43 L100.99 305.90 L101.16 306.37 L101.34 306.83 L101.51 307.31 L101.68 307.78 L101.86 308.26 L102.03 308.74 L102.21 309.22 L102.38 309.70 L102.55 310.18 L102.73 310.66 L102.90 311.15 L103.08 311.64 L103.25 312.12 L103.25 312.12 L103.37 311.22 L103.48 310.35 L103.60 309.50 L103.71 308.68 L103.83 307.88 L103.95 307.12 L104.06 306.38 L104.18 305.66 L104.29 304.97 L104.41 304.31 L104.53 303.68 L104.64 303.07 L104.76 302.48 L104.87 301.92 L104.99 301.39 L105.11 300.88 L105.22 300.40 L105.34 299.94 L105.45 299.50 L105.57 299.09 L105.69 298.70 L105.80 298.34 L105.92 298.00 L106.03 297.68 L106.15 297.39 L106.27 297.12 L106.38 296.87 L106.50 296.64 L106.61 296.44 L106.73 296.25 L106.85 296.09 L106.96 295.95 L107.08 295.83 L107.19 295.72 L107.31 295.64 L107.43 295.57 L107.54 295.52 L107.66 295.49 L107.77 295.47 L107.89 295.47 L108.06 295.49 L108.24 295.55 L108.41 295.65 L108.59 295.79 L108.76 295.96 L108.93 296.17 L109.11 296.41 L109.28 296.68 L109.46 296.96 L109.63 297.27 L109.80 297.60 L109.98 297.95 L110.15 298.31 L110.33 298.68 L110.50 299.07 L110.67 299.46 L110.85 299.87 L111.02 300.28 L111.20 300.70 L111.37 301.12 L111.54 301.56 L111.72 301.99 L111.89 302.43 L112.07 302.88 L112.24 303.33 L112.41 303.78 L112.59 304.23 L112.76 304.69 L112.94 305.15 L113.11 305.62 L113.28 306.08 L113.46 306.55 L113.63 307.02 L113.81 307.49 L113.98 307.96 L114.15 308.43 L114.33 308.91 L114.50 309.38 L114.68 309.86 L114.85 310.34 L114.85 310.34 L114.97 309.47 L115.08 308.63 L115.20 307.81 L115.31 307.02 L115.43 306.25 L115.55 305.51 L115.66 304.80 L115.78 304.11 L115.89 303.44 L116.01 302.81 L116.13 302.19 L116.24 301.60 L116.36 301.04 L116.47 300.50 L116.59 299.99 L116.71 299.50 L116.82 299.03 L116.94 298.59 L117.05 298.17 L117.17 297.77 L117.29 297.40 L117.40 297.05 L117.52 296.72 L117.63 296.41 L117.75 296.13 L117.87 295.87 L117.98 295.63 L118.10 295.41 L118.21 295.21 L118.33 295.04 L118.45 294.88 L118.56 294.74 L118.68 294.62 L118.79 294.52 L118.91 294.44 L119.03 294.38 L119.14 294.33 L119.26 294.30 L119.37 294.28 L119.49 294.27 L119.66 294.29 L119.84 294.35 L120.01 294.44 L120.19 294.57 L120.36 294.73 L120.53 294.93 L120.71 295.15 L120.88 295.39 L121.06 295.65 L121.23 295.94 L121.40 296.24 L121.58 296.56 L121.75 296.89 L121.93 297.24 L122.10 297.59 L122.27 297.95 L122.45 298.33 L122.62 298.70 L122.80 299.09 L122.97 299.48 L123.14 299.88 L123.32 300.28 L123.49 300.69 L123.67 301.10 L123.84 301.51 L124.01 301.92 L124.19 302.34 L124.36 302.76 L124.54 303.19 L124.71 303.61 L124.88 304.04 L125.06 304.47 L125.23 304.90 L125.41 305.34 L125.58 305.77 L125.75 306.21 L125.93 306.64 L126.10 307.08 L126.28 307.52 L126.45 307.96 L126.45 307.96 L126.57 307.16 L126.68 306.39 L126.80 305.64 L126.91 304.92 L127.03 304.22 L127.15 303.54 L127.26 302.89 L127.38 302.26 L127.49 301.65 L127.61 301.07 L127.73 300.51 L127.84 299.97 L127.96 299.45 L128.07 298.96 L128.19 298.49 L128.31 298.04 L128.42 297.61 L128.54 297.21 L128.65 296.82 L128.77 296.46 L128.89 296.12 L129.00 295.80 L129.12 295.50 L129.23 295.22 L129.35 294.96 L129.47 294.72 L129.58 294.50 L129.70 294.30 L129.81 294.12 L129.93 293.96 L130.05 293.82 L130.16 293.69 L130.28 293.58 L130.39 293.49 L130.51 293.42 L130.63 293.36 L130.74 293.31 L130.86 293.28 L130.97 293.27 L131.09 293.26 L131.26 293.28 L131.44 293.34 L131.61 293.43 L131.79 293.56 L131.96 293.72 L132.13 293.91 L132.31 294.12 L132.48 294.36 L132.66 294.62 L132.83 294.91 L133.00 295.21 L133.18 295.52 L133.35 295.85 L133.53 296.19 L133.70 296.54 L133.87 296.89 L134.05 297.26 L134.22 297.64 L134.40 298.02 L134.57 298.40 L134.74 298.79 L134.92 299.19 L135.09 299.59 L135.27 300.00 L135.44 300.40 L135.61 300.81 L135.79 301.23 L135.96 301.64 L136.14 302.06 L136.31 302.48 L136.48 302.90 L136.66 303.33 L136.83 303.75 L137.01 304.18 L137.18 304.61 L137.35 305.04 L137.53 305.47 L137.70 305.90 L137.88 306.34 L138.05 306.77 L138.05 306.77 L138.17 306.00 L138.28 305.25 L138.40 304.52 L138.51 303.82 L138.63 303.14 L138.75 302.48 L138.86 301.84 L138.98 301.23 L139.09 300.64 L139.21 300.07 L139.33 299.53 L139.44 299.01 L139.56 298.50 L139.67 298.03 L139.79 297.57 L139.91 297.13 L140.02 296.72 L140.14 296.32 L140.25 295.95 L140.37 295.60 L140.49 295.27 L140.60 294.95 L140.72 294.66 L140.83 294.39 L140.95 294.14 L141.07 293.91 L141.18 293.69 L141.30 293.50 L141.41 293.32 L141.53 293.17 L141.65 293.03 L141.76 292.90 L141.88 292.80 L141.99 292.71 L142.11 292.64 L142.23 292.58 L142.34 292.54 L142.46 292.51 L142.57 292.49 L142.69 292.49 L142.86 292.51 L143.04 292.56 L143.21 292.65 L143.39 292.77 L143.56 292.92 L143.73 293.10 L143.91 293.31 L144.08 293.54 L144.26 293.79 L144.43 294.06 L144.60 294.35 L144.78 294.65 L144.95 294.96 L145.13 295.28 L145.30 295.62 L145.47 295.96 L145.65 296.31 L145.82 296.67 L146.00 297.03 L146.17 297.40 L146.34 297.78 L146.52 298.16 L146.69 298.54 L146.87 298.93 L147.04 299.31 L147.21 299.71 L147.39 300.10 L147.56 300.50 L147.74 300.90 L147.91 301.30 L148.08 301.71 L148.26 302.11 L148.43 302.52 L148.61 302.93 L148.78 303.34 L148.95 303.75 L149.13 304.16 L149.30 304.57 L149.48 304.99 L149.65 305.40 L149.65 305.40 L149.77 304.66 L149.88 303.93 L150.00 303.24 L150.11 302.56 L150.23 301.90 L150.35 301.27 L150.46 300.66 L150.58 300.07 L150.69 299.50 L150.81 298.96 L150.93 298.43 L151.04 297.93 L151.16 297.45 L151.27 296.98 L151.39 296.54 L151.51 296.12 L151.62 295.73 L151.74 295.35 L151.85 294.99 L151.97 294.65 L152.09 294.33 L152.20 294.03 L152.32 293.75 L152.43 293.49 L152.55 293.25 L152.67 293.02 L152.78 292.82 L152.90 292.63 L153.01 292.46 L153.13 292.31 L153.25 292.17 L153.36 292.06 L153.48 291.95 L153.59 291.87 L153.71 291.80 L153.83 291.74 L153.94 291.70 L154.06 291.68 L154.17 291.66 L154.29 291.66 L154.46 291.68 L154.64 291.73 L154.81 291.82 L154.99 291.94 L155.16 292.09 L155.33 292.28 L155.51 292.49 L155.68 292.72 L155.86 292.97 L156.03 293.24 L156.20 293.53 L156.38 293.83 L156.55 294.15 L156.73 294.48 L156.90 294.81 L157.07 295.16 L157.25 295.51 L157.42 295.87 L157.60 296.24 L157.77 296.61 L157.94 296.99 L158.12 297.38 L158.29 297.76 L158.47 298.15 L158.64 298.54 L158.81 298.94 L158.99 299.34 L159.16 299.74 L159.34 300.14 L159.51 300.55 L159.68 300.96 L159.86 301.37 L160.03 301.78 L160.21 302.19 L160.38 302.60 L160.55 303.02 L160.73 303.43 L160.90 303.85 L161.08 304.27 L161.25 304.69 L161.25 304.69 L161.37 303.94 L161.48 303.22 L161.60 302.52 L161.71 301.84 L161.83 301.19 L161.95 300.56 L162.06 299.94 L162.18 299.36 L162.29 298.79 L162.41 298.24 L162.53 297.72 L162.64 297.21 L162.76 296.73 L162.87 296.27 L162.99 295.83 L163.11 295.41 L163.22 295.01 L163.34 294.63 L163.45 294.27 L163.57 293.93 L163.69 293.62 L163.80 293.32 L163.92 293.04 L164.03 292.77 L164.15 292.53 L164.27 292.31 L164.38 292.10 L164.50 291.92 L164.61 291.75 L164.73 291.59 L164.85 291.46 L164.96 291.34 L165.08 291.24 L165.19 291.15 L165.31 291.08 L165.43 291.03 L165.54 290.99 L165.66 290.96 L165.77 290.95 L165.89 290.94 L166.06 290.96 L166.24 291.02 L166.41 291.11 L166.59 291.23 L166.76 291.38 L166.93 291.57 L167.11 291.78 L167.28 292.01 L167.46 292.27 L167.63 292.54 L167.80 292.83 L167.98 293.14 L168.15 293.46 L168.33 293.79 L168.50 294.13 L168.67 294.48 L168.85 294.83 L169.02 295.20 L169.20 295.57 L169.37 295.95 L169.54 296.33 L169.72 296.71 L169.89 297.10 L170.07 297.50 L170.24 297.89 L170.41 298.29 L170.59 298.70 L170.76 299.10 L170.94 299.51 L171.11 299.92 L171.28 300.33 L171.46 300.74 L171.63 301.16 L171.81 301.57 L171.98 301.99 L172.15 302.41 L172.33 302.83 L172.50 303.25 L172.68 303.67 L172.85 304.09 L172.85 304.09 L172.97 303.34 L173.08 302.61 L173.20 301.91 L173.31 301.22 L173.43 300.56 L173.55 299.93 L173.66 299.31 L173.78 298.71 L173.89 298.14 L174.01 297.59 L174.13 297.06 L174.24 296.55 L174.36 296.07 L174.47 295.60 L174.59 295.16 L174.71 294.74 L174.82 294.33 L174.94 293.95 L175.05 293.59 L175.17 293.25 L175.29 292.92 L175.40 292.62 L175.52 292.34 L175.63 292.08 L175.75 291.83 L175.87 291.61 L175.98 291.40 L176.10 291.21 L176.21 291.04 L176.33 290.89 L176.45 290.75 L176.56 290.63 L176.68 290.53 L176.79 290.44 L176.91 290.37 L177.03 290.32 L177.14 290.28 L177.26 290.25 L177.37 290.23 L177.49 290.23 L177.66 290.25 L177.84 290.30 L178.01 290.39 L178.19 290.52 L178.36 290.67 L178.53 290.86 L178.71 291.07 L178.88 291.31 L179.06 291.57 L179.23 291.84 L179.40 292.14 L179.58 292.45 L179.75 292.77 L179.93 293.10 L180.10 293.44 L180.27 293.80 L180.45 294.16 L180.62 294.52 L180.80 294.90 L180.97 295.28 L181.14 295.66 L181.32 296.05 L181.49 296.44 L181.67 296.84 L181.84 297.24 L182.01 297.65 L182.19 298.05 L182.36 298.46 L182.54 298.87 L182.71 299.28 L182.88 299.70 L183.06 300.12 L183.23 300.53 L183.41 300.95 L183.58 301.37 L183.75 301.80 L183.93 302.22 L184.10 302.65 L184.28 303.07 L184.45 303.50 L184.45 303.50 L184.57 302.73 L184.68 301.99 L184.80 301.27 L184.91 300.58 L185.03 299.91 L185.15 299.26 L185.26 298.63 L185.38 298.03 L185.49 297.44 L185.61 296.88 L185.73 296.35 L185.84 295.83 L185.96 295.34 L186.07 294.86 L186.19 294.41 L186.31 293.98 L186.42 293.57 L186.54 293.18 L186.65 292.81 L186.77 292.47 L186.89 292.14 L187.00 291.83 L187.12 291.54 L187.23 291.27 L187.35 291.03 L187.47 290.80 L187.58 290.59 L187.70 290.39 L187.81 290.22 L187.93 290.06 L188.05 289.93 L188.16 289.80 L188.28 289.70 L188.39 289.61 L188.51 289.54 L188.63 289.48 L188.74 289.44 L188.86 289.42 L188.97 289.40 L189.09 289.40 L189.26 289.41 L189.44 289.47 L189.61 289.56 L189.79 289.69 L189.96 289.85 L190.13 290.04 L190.31 290.25 L190.48 290.50 L190.66 290.76 L190.83 291.04 L191.00 291.34 L191.18 291.65 L191.35 291.98 L191.53 292.32 L191.70 292.67 L191.87 293.03 L192.05 293.39 L192.22 293.77 L192.40 294.15 L192.57 294.54 L192.74 294.93 L192.92 295.32 L193.09 295.72 L193.27 296.13 L193.44 296.54 L193.61 296.95 L193.79 297.36 L193.96 297.78 L194.14 298.19 L194.31 298.61 L194.48 299.04 L194.66 299.46 L194.83 299.89 L195.01 300.31 L195.18 300.74 L195.35 301.17 L195.53 301.60 L195.70 302.04 L195.88 302.47 L196.05 302.90 L196.05 302.90 L196.17 302.07 L196.28 301.26 L196.40 300.48 L196.51 299.73 L196.63 298.99 L196.75 298.29 L196.86 297.61 L196.98 296.95 L197.09 296.31 L197.21 295.70 L197.33 295.12 L197.44 294.56 L197.56 294.02 L197.67 293.50 L197.79 293.01 L197.91 292.54 L198.02 292.10 L198.14 291.67 L198.25 291.27 L198.37 290.89 L198.49 290.54 L198.60 290.20 L198.72 289.89 L198.83 289.60 L198.95 289.33 L199.07 289.08 L199.18 288.85 L199.30 288.64 L199.41 288.45 L199.53 288.28 L199.65 288.13 L199.76 288.00 L199.88 287.88 L199.99 287.79 L200.11 287.71 L200.23 287.65 L200.34 287.60 L200.46 287.57 L200.57 287.56 L200.69 287.55 L200.86 287.57 L201.04 287.63 L201.21 287.73 L201.39 287.87 L201.56 288.05 L201.73 288.25 L201.91 288.49 L202.08 288.75 L202.26 289.04 L202.43 289.35 L202.60 289.67 L202.78 290.02 L202.95 290.37 L203.13 290.74 L203.30 291.13 L203.47 291.52 L203.65 291.92 L203.82 292.33 L204.00 292.74 L204.17 293.17 L204.34 293.59 L204.52 294.03 L204.69 294.46 L204.87 294.91 L205.04 295.35 L205.21 295.80 L205.39 296.25 L205.56 296.71 L205.74 297.16 L205.91 297.62 L206.08 298.08 L206.26 298.55 L206.43 299.01 L206.61 299.48 L206.78 299.95 L206.95 300.42 L207.13 300.89 L207.30 301.36 L207.48 301.83 L207.65 302.31 L207.65 302.31 L207.77 301.46 L207.88 300.64 L208.00 299.84 L208.11 299.07 L208.23 298.32 L208.35 297.60 L208.46 296.91 L208.58 296.24 L208.69 295.59 L208.81 294.97 L208.93 294.37 L209.04 293.80 L209.16 293.25 L209.27 292.72 L209.39 292.22 L209.51 291.75 L209.62 291.29 L209.74 290.86 L209.85 290.45 L209.97 290.06 L210.09 289.70 L210.20 289.36 L210.32 289.04 L210.43 288.74 L210.55 288.47 L210.67 288.21 L210.78 287.98 L210.90 287.77 L211.01 287.57 L211.13 287.40 L211.25 287.25 L211.36 287.11 L211.48 287.00 L211.59 286.90 L211.71 286.82 L211.83 286.76 L211.94 286.71 L212.06 286.68 L212.17 286.66 L212.29 286.66 L212.46 286.68 L212.64 286.74 L212.81 286.85 L212.99 286.99 L213.16 287.16 L213.33 287.38 L213.51 287.62 L213.68 287.88 L213.86 288.18 L214.03 288.49 L214.20 288.82 L214.38 289.17 L214.55 289.54 L214.73 289.92 L214.90 290.31 L215.07 290.71 L215.25 291.11 L215.42 291.53 L215.60 291.96 L215.77 292.39 L215.94 292.82 L216.12 293.26 L216.29 293.71 L216.47 294.16 L216.64 294.62 L216.81 295.07 L216.99 295.53 L217.16 296.00 L217.34 296.46 L217.51 296.93 L217.68 297.40 L217.86 297.88 L218.03 298.35 L218.21 298.83 L218.38 299.30 L218.55 299.78 L218.73 300.26 L218.90 300.75 L219.08 301.23 L219.25 301.71 L219.25 301.71 L219.37 300.86 L219.48 300.03 L219.60 299.23 L219.71 298.45 L219.83 297.70 L219.95 296.97 L220.06 296.27 L220.18 295.60 L220.29 294.94 L220.41 294.32 L220.53 293.72 L220.64 293.14 L220.76 292.59 L220.87 292.06 L220.99 291.55 L221.11 291.07 L221.22 290.61 L221.34 290.18 L221.45 289.77 L221.57 289.38 L221.69 289.01 L221.80 288.67 L221.92 288.35 L222.03 288.05 L222.15 287.77 L222.27 287.51 L222.38 287.28 L222.50 287.06 L222.61 286.87 L222.73 286.69 L222.85 286.54 L222.96 286.40 L223.08 286.29 L223.19 286.19 L223.31 286.11 L223.43 286.04 L223.54 286.00 L223.66 285.97 L223.77 285.95 L223.89 285.94 L224.06 285.97 L224.24 286.03 L224.41 286.14 L224.59 286.28 L224.76 286.46 L224.93 286.68 L225.11 286.93 L225.28 287.20 L225.46 287.50 L225.63 287.83 L225.80 288.17 L225.98 288.53 L226.15 288.90 L226.33 289.29 L226.50 289.69 L226.67 290.10 L226.85 290.52 L227.02 290.95 L227.20 291.39 L227.37 291.83 L227.54 292.28 L227.72 292.73 L227.89 293.19 L228.07 293.66 L228.24 294.12 L228.41 294.59 L228.59 295.07 L228.76 295.54 L228.94 296.02 L229.11 296.50 L229.28 296.99 L229.46 297.47 L229.63 297.96 L229.81 298.45 L229.98 298.94 L230.15 299.43 L230.33 299.93 L230.50 300.42 L230.68 300.92 L230.85 301.42 L230.85 301.42 L230.97 300.53 L231.08 299.68 L231.20 298.85 L231.31 298.05 L231.43 297.28 L231.55 296.53 L231.66 295.81 L231.78 295.11 L231.89 294.44 L232.01 293.80 L232.13 293.18 L232.24 292.58 L232.36 292.01 L232.47 291.47 L232.59 290.95 L232.71 290.45 L232.82 289.98 L232.94 289.53 L233.05 289.11 L233.17 288.71 L233.29 288.33 L233.40 287.98 L233.52 287.64 L233.63 287.34 L233.75 287.05 L233.87 286.78 L233.98 286.54 L234.10 286.32 L234.21 286.12 L234.33 285.94 L234.45 285.78 L234.56 285.64 L234.68 285.52 L234.79 285.42 L234.91 285.34 L235.03 285.27 L235.14 285.23 L235.26 285.19 L235.37 285.18 L235.49 285.17 L235.66 285.19 L235.84 285.26 L236.01 285.37 L236.19 285.51 L236.36 285.70 L236.53 285.92 L236.71 286.17 L236.88 286.45 L237.06 286.75 L237.23 287.08 L237.40 287.42 L237.58 287.79 L237.75 288.16 L237.93 288.56 L238.10 288.96 L238.27 289.38 L238.45 289.80 L238.62 290.24 L238.80 290.68 L238.97 291.13 L239.14 291.58 L239.32 292.04 L239.49 292.50 L239.67 292.97 L239.84 293.44 L240.01 293.92 L240.19 294.40 L240.36 294.88" stroke="#0d4f7c"/>
  <path d="M45.25 356.75 L45.38 353.37 L45.51 350.18 L45.63 347.16 L45.76 344.32 L45.89 341.65 L46.02 339.14 L46.14 336.78 L46.27 334.58 L46.40 332.53 L46.53 330.61 L46.65 328.84 L46.78 327.19 L46.91 325.66 L47.04 324.26 L47.16 322.97 L47.29 321.79 L47.42 320.71 L47.55 319.73 L47.67 318.84 L47.80 318.04 L47.93 317.33 L48.06 316.69 L48.18 316.12 L48.31 315.63 L48.44 315.20 L48.57 314.82 L48.70 314.51 L48.82 314.24 L48.95 314.01 L49.08 313.83 L49.21 313.68 L49.33 313.57 L49.46 313.48 L49.59 313.42 L49.72 313.37 L49.84 313.34 L49.97 313.33 L50.10 313.32 L50.23 313.32 L50.35 313.31 L50.81 313.41 L51.26 313.66 L51.71 314.05 L52.16 314.53 L52.62 315.07 L53.07 315.66 L53.52 316.29 L53.97 316.93 L54.43 317.59 L54.88 318.27 L55.33 318.95 L55.78 319.64 L56.24 320.34 L56.69 321.04 L57.14 321.74 L57.59 322.45 L58.04 323.16 L58.50 323.88 L58.95 324.59 L59.40 325.31 L59.85 326.03 L60.31 326.74 L60.76 327.46 L61.21 328.19 L61.66 328.91 L62.12 329.63 L62.57 330.35 L63.02 331.08 L63.47 331.80 L63.93 332.53 L64.38 333.25 L64.83 333.98 L65.28 334.70 L65.74 335.43 L66.19 336.16 L66.64 336.88 L67.09 337.61 L67.55 338.34 L68.00 339.06 L68.45 339.79 L68.45 339.79 L68.58 336.81 L68.71 333.98 L68.83 331.32 L68.96 328.81 L69.09 326.45 L69.22 324.23 L69.34 322.15 L69.47 320.21 L69.60 318.39 L69.73 316.70 L69.85 315.13 L69.98 313.67 L70.11 312.33 L70.24 311.08 L70.36 309.94 L70.49 308.90 L70.62 307.95 L70.75 307.08 L70.87 306.30 L71.00 305.59 L71.13 304.96 L71.26 304.40 L71.38 303.90 L71.51 303.46 L71.64 303.08 L71.77 302.75 L71.90 302.47 L72.02 302.23 L72.15 302.03 L72.28 301.87 L72.41 301.74 L72.53 301.64 L72.66 301.56 L72.79 301.50 L72.92 301.46 L73.04 301.44 L73.17 301.42 L73.30 301.42 L73.43 301.42 L73.55 301.42 L74.01 301.53 L74.46 301.85 L74.91 302.34 L75.36 302.95 L75.82 303.65 L76.27 304.40 L76.72 305.19 L77.17 306.01 L77.63 306.85 L78.08 307.70 L78.53 308.57 L78.98 309.45 L79.44 310.33 L79.89 311.22 L80.34 312.12 L80.79 313.02 L81.24 313.92 L81.70 314.82 L82.15 315.73 L82.60 316.64 L83.05 317.55 L83.51 318.47 L83.96 319.38 L84.41 320.30 L84.86 321.21 L85.32 322.13 L85.77 323.05 L86.22 323.97 L86.67 324.89 L87.13 325.81 L87.58 326.73 L88.03 327.65 L88.48 328.57 L88.94 329.49 L89.39 330.42 L89.84 331.34 L90.29 332.26 L90.75 333.18 L91.20 334.11 L91.65 335.03 L91.65 335.03 L91.78 332.12 L91.91 329.36 L92.03 326.76 L92.16 324.30 L92.29 322.00 L92.42 319.83 L92.54 317.80 L92.67 315.90 L92.80 314.13 L92.93 312.48 L93.05 310.94 L93.18 309.52 L93.31 308.20 L93.44 306.99 L93.56 305.88 L93.69 304.86 L93.82 303.93 L93.95 303.08 L94.07 302.32 L94.20 301.63 L94.33 301.01 L94.46 300.46 L94.58 299.97 L94.71 299.54 L94.84 299.17 L94.97 298.85 L95.10 298.58 L95.22 298.34 L95.35 298.15 L95.48 297.99 L95.61 297.86 L95.73 297.76 L95.86 297.69 L95.99 297.63 L96.12 297.60 L96.24 297.57 L96.37 297.56 L96.50 297.55 L96.63 297.55 L96.75 297.55 L97.21 297.67 L97.66 298.01 L98.11 298.53 L98.56 299.17 L99.02 299.90 L99.47 300.69 L99.92 301.52 L100.37 302.38 L100.83 303.27 L101.28 304.17 L101.73 305.08 L102.18 306.01 L102.64 306.94 L103.09 307.88 L103.54 308.82 L103.99 309.76 L104.44 310.72 L104.90 311.67 L105.35 312.62 L105.80 313.58 L106.25 314.54 L106.71 315.50 L107.16 316.47 L107.61 317.43 L108.06 318.40 L108.52 319.36 L108.97 320.33 L109.42 321.30 L109.87 322.27 L110.33 323.23 L110.78 324.20 L111.23 325.17 L111.68 326.15 L112.14 327.12 L112.59 328.09 L113.04 329.06 L113.49 330.03 L113.95 331.00 L114.40 331.98 L114.85 332.95 L114.85 332.95 L114.98 330.06 L115.11 327.32 L115.23 324.74 L115.36 322.31 L115.49 320.02 L115.62 317.87 L115.74 315.86 L115.87 313.97 L116.00 312.21 L116.13 310.57 L116.25 309.05 L116.38 307.64 L116.51 306.33 L116.64 305.13 L116.76 304.03 L116.89 303.01 L117.02 302.09 L117.15 301.25 L117.27 300.49 L117.40 299.81 L117.53 299.20 L117.66 298.65 L117.78 298.17 L117.91 297.74 L118.04 297.37 L118.17 297.05 L118.30 296.78 L118.42 296.55 L118.55 296.36 L118.68 296.20 L118.81 296.08 L118.93 295.98 L119.06 295.90 L119.19 295.85 L119.32 295.81 L119.44 295.79 L119.57 295.77 L119.70 295.77 L119.83 295.76 L119.95 295.76 L120.41 295.88 L120.86 296.22 L121.31 296.74 L121.76 297.38 L122.22 298.11 L122.67 298.90 L123.12 299.74 L123.57 300.60 L124.03 301.48 L124.48 302.38 L124.93 303.30 L125.38 304.22 L125.84 305.15 L126.29 306.09 L126.74 307.03 L127.19 307.98 L127.64 308.93 L128.10 309.88 L128.55 310.84 L129.00 311.80 L129.45 312.76 L129.91 313.72 L130.36 314.68 L130.81 315.65 L131.26 316.61 L131.72 317.58 L132.17 318.54 L132.62 319.51 L133.07 320.48 L133.53 321.45 L133.98 322.42 L134.43 323.39 L134.88 324.36 L135.34 325.33 L135.79 326.30 L136.24 327.27 L136.69 328.25 L137.15 329.22 L137.60 330.19 L138.05 331.17 L138.05 331.17 L138.18 328.29 L138.31 325.58 L138.43 323.02 L138.56 320.61 L138.69 318.34 L138.82 316.21 L138.94 314.21 L139.07 312.34 L139.20 310.59 L139.33 308.97 L139.45 307.46 L139.58 306.06 L139.71 304.76 L139.84 303.57 L139.96 302.47 L140.09 301.47 L140.22 300.55 L140.35 299.72 L140.47 298.97 L140.60 298.29 L140.73 297.68 L140.86 297.14 L140.98 296.66 L141.11 296.24 L141.24 295.87 L141.37 295.56 L141.50 295.29 L141.62 295.06 L141.75 294.87 L141.88 294.71 L142.01 294.59 L142.13 294.49 L142.26 294.41 L142.39 294.36 L142.52 294.32 L142.64 294.30 L142.77 294.28 L142.90 294.28 L143.03 294.28 L143.15 294.27 L143.61 294.40 L144.06 294.74 L144.51 295.26 L144.96 295.91 L145.42 296.64 L145.87 297.44 L146.32 298.28 L146.77 299.15 L147.23 300.04 L147.68 300.95 L148.13 301.87 L148.58 302.80 L149.04 303.74 L149.49 304.69 L149.94 305.64 L150.39 306.60 L150.84 307.55 L151.30 308.51 L151.75 309.48 L152.20 310.44 L152.65 311.41 L153.11 312.38 L153.56 313.35 L154.01 314.33 L154.46 315.30 L154.92 316.27 L155.37 317.25 L155.82 318.22 L156.27 319.20 L156.73 320.18 L157.18 321.16 L157.63 322.13 L158.08 323.11 L158.54 324.09 L158.99 325.07 L159.44 326.05 L159.89 327.03 L160.35 328.01 L160.80 328.99 L161.25 329.98 L161.25 329.98 L161.38 327.10 L161.51 324.39 L161.63 321.83 L161.76 319.42 L161.89 317.15 L162.02 315.02 L162.14 313.02 L162.27 311.15 L162.40 309.40 L162.53 307.78 L162.65 306.27 L162.78 304.87 L162.91 303.57 L163.04 302.38 L163.16 301.28 L163.29 300.28 L163.42 299.36 L163.55 298.53 L163.67 297.78 L163.80 297.10 L163.93 296.49 L164.06 295.95 L164.18 295.47 L164.31 295.05 L164.44 294.68 L164.57 294.37 L164.70 294.10 L164.82 293.87 L164.95 293.68 L165.08 293.52 L165.21 293.40 L165.33 293.30 L165.46 293.22 L165.59 293.17 L165.72 293.13 L165.84 293.11 L165.97 293.09 L166.10 293.09 L166.23 293.09 L166.35 293.08 L166.81 293.21 L167.26 293.55 L167.71 294.07 L168.16 294.72 L168.62 295.45 L169.07 296.25 L169.52 297.09 L169.97 297.96 L170.43 298.85 L170.88 299.76 L171.33 300.68 L171.78 301.61 L172.24 302.55 L172.69 303.50 L173.14 304.45 L173.59 305.41 L174.04 306.36 L174.50 307.32 L174.95 308.29 L175.40 309.25 L175.85 310.22 L176.31 311.19 L176.76 312.16 L177.21 313.14 L177.66 314.11 L178.12 315.08 L178.57 316.06 L179.02 317.03 L179.47 318.01 L179.93 318.99 L180.38 319.97 L180.83 320.94 L181.28 321.92 L181.74 322.90 L182.19 323.88 L182.64 324.86 L183.09 325.84 L183.55 326.82 L184.00 327.80 L184.45 328.79 L184.45 328.79 L184.58 325.92 L184.71 323.22 L184.83 320.67 L184.96 318.26 L185.09 316.00 L185.22 313.87 L185.34 311.88 L185.47 310.02 L185.60 308.28 L185.73 306.66 L185.85 305.15 L185.98 303.76 L186.11 302.47 L186.24 301.28 L186.36 300.19 L186.49 299.19 L186.62 298.27 L186.75 297.44 L186.87 296.69 L187.00 296.02 L187.13 295.41 L187.26 294.87 L187.38 294.39 L187.51 293.97 L187.64 293.61 L187.77 293.29 L187.90 293.02 L188.02 292.79 L188.15 292.60 L188.28 292.45 L188.41 292.32 L188.53 292.23 L188.66 292.15 L188.79 292.10 L188.92 292.06 L189.04 292.04 L189.17 292.02 L189.30 292.02 L189.43 292.01 L189.55 292.01 L190.01 292.14 L190.46 292.48 L190.91 293.00 L191.36 293.64 L191.82 294.38 L192.27 295.17 L192.72 296.01 L193.17 296.87 L193.63 297.76 L194.08 298.67 L194.53 299.59 L194.98 300.52 L195.44 301.45 L195.89 302.39 L196.34 303.34 L196.79 304.29 L197.24 305.25 L197.70 306.21 L198.15 307.17 L198.60 308.13 L199.05 309.09 L199.51 310.06 L199.96 311.03 L200.41 312.00 L200.86 312.97 L201.32 313.94 L201.77 314.91 L202.22 315.88 L202.67 316.86 L203.13 317.83 L203.58 318.81 L204.03 319.78 L204.48 320.76 L204.94 321.73 L205.39 322.71 L205.84 323.69 L206.29 324.66 L206.75 325.64 L207.20 326.62 L207.65 327.60 L207.65 327.60 L207.78 324.73 L207.91 322.02 L208.03 319.46 L208.16 317.05 L208.29 314.79 L208.42 312.66 L208.54 310.66 L208.67 308.80 L208.80 307.06 L208.93 305.43 L209.05 303.93 L209.18 302.53 L209.31 301.24 L209.44 300.04 L209.56 298.95 L209.69 297.95 L209.82 297.03 L209.95 296.20 L210.07 295.45 L210.20 294.77 L210.33 294.17 L210.46 293.63 L210.58 293.15 L210.71 292.73 L210.84 292.36 L210.97 292.04 L211.10 291.77 L211.22 291.55 L211.35 291.36 L211.48 291.20 L211.61 291.08 L211.73 290.98 L211.86 290.90 L211.99 290.85 L212.12 290.81 L212.24 290.79 L212.37 290.77 L212.50 290.77 L212.63 290.76 L212.75 290.76 L213.21 290.89 L213.66 291.23 L214.11 291.75 L214.56 292.40 L215.02 293.14 L215.47 293.94 L215.92 294.78 L216.37 295.65 L216.83 296.54 L217.28 297.45 L217.73 298.38 L218.18 299.31 L218.64 300.25 L219.09 301.20 L219.54 302.15 L219.99 303.11 L220.44 304.07 L220.90 305.03 L221.35 305.99 L221.80 306.96 L222.25 307.93 L222.71 308.90 L223.16 309.87 L223.61 310.85 L224.06 311.82 L224.52 312.80 L224.97 313.78 L225.42 314.75 L225.87 315.73 L226.33 316.71 L226.78 317.69 L227.23 318.67 L227.68 319.65 L228.14 320.63 L228.59 321.61 L229.04 322.59 L229.49 323.58 L229.95 324.56 L230.40 325.54 L230.85 326.52 L230.85 326.52 L230.98 323.66 L231.11 320.95 L231.23 318.39 L231.36 315.98 L231.49 313.72 L231.62 311.59 L231.74 309.59 L231.87 307.73 L232.00 305.99 L232.13 304.36 L232.25 302.85 L232.38 301.46 L232.51 300.16 L232.64 298.97 L232.76 297.88 L232.89 296.88 L233.02 295.96 L233.15 295.13 L233.27 294.38 L233.40 293.70 L233.53 293.09 L233.66 292.55 L233.78 292.08 L233.91 291.66 L234.04 291.29 L234.17 290.97 L234.30 290.70 L234.42 290.48 L234.55 290.29 L234.68 290.13 L234.81 290.00 L234.93 289.91 L235.06 289.83 L235.19 289.78 L235.32 289.74 L235.44 289.72 L235.57 289.70 L235.70 289.70 L235.83 289.69 L235.95 289.69 L236.41 289.81 L236.86 290.16 L237.31 290.67 L237.76 291.32 L238.22 292.05 L238.67 292.84 L239.12 293.68 L239.57 294.55 L240.03 295.43" stroke="#c8143c"/>
 </g>
 <line x1="36.5" y1="346.6" x2="240.8" y2="346.6" stroke="#555" stroke-width="1.55" stroke-dasharray="4.3 3"/>
 <g stroke="#2b2b2b" stroke-width="1" fill="none">
  <path d="M36.5 206.3 V363.3 H240.8"/>
  <line x1="33.6" y1="356.75" x2="36.5" y2="356.75"/><line x1="33.6" y1="327.00" x2="36.5" y2="327.00"/><line x1="33.6" y1="297.25" x2="36.5" y2="297.25"/><line x1="33.6" y1="267.50" x2="36.5" y2="267.50"/><line x1="33.6" y1="237.75" x2="36.5" y2="237.75"/><line x1="33.6" y1="208.00" x2="36.5" y2="208.00"/><line x1="45.25" y1="363.3" x2="45.25" y2="366.3"/><line x1="68.45" y1="363.3" x2="68.45" y2="366.3"/><line x1="91.65" y1="363.3" x2="91.65" y2="366.3"/><line x1="114.85" y1="363.3" x2="114.85" y2="366.3"/><line x1="138.05" y1="363.3" x2="138.05" y2="366.3"/><line x1="161.25" y1="363.3" x2="161.25" y2="366.3"/><line x1="184.45" y1="363.3" x2="184.45" y2="366.3"/><line x1="207.65" y1="363.3" x2="207.65" y2="366.3"/><line x1="230.85" y1="363.3" x2="230.85" y2="366.3"/>
 </g>
 <g font-size="6.3" fill="#333"><text x="30.6" y="358.95" text-anchor="end">0</text><text x="30.6" y="329.20" text-anchor="end">50</text><text x="30.6" y="299.45" text-anchor="end">100</text><text x="30.6" y="269.70" text-anchor="end">150</text><text x="30.6" y="239.95" text-anchor="end">200</text><text x="30.6" y="210.20" text-anchor="end">250</text><text x="45.25" y="376" text-anchor="middle">0</text><text x="68.45" y="376" text-anchor="middle">1</text><text x="91.65" y="376" text-anchor="middle">2</text><text x="114.85" y="376" text-anchor="middle">3</text><text x="138.05" y="376" text-anchor="middle">4</text><text x="161.25" y="376" text-anchor="middle">5</text><text x="184.45" y="376" text-anchor="middle">6</text><text x="207.65" y="376" text-anchor="middle">7</text><text x="230.85" y="376" text-anchor="middle">8</text></g>
 <text x="66.2" y="353.7" font-size="6.3" fill="#6f7a86" letter-spacing="0.05">IC<tspan font-size="4" dy="1.2">50</tspan><tspan dy="-1.2"> = 17 nM</tspan></text>
 <g font-size="5.9" fill="#2e2e2e">
  <line x1="172.5" y1="218.4" x2="179.5" y2="218.4" stroke="#3bb34a" stroke-width="1.1"/>
  <text x="183" y="220.4">200mg BID</text>
  <line x1="172.5" y1="227.4" x2="179.5" y2="227.4" stroke="#0d4f7c" stroke-width="1.1"/>
  <text x="183" y="229.4">100mg BID</text>
  <line x1="172.5" y1="236.5" x2="179.5" y2="236.5" stroke="#c8143c" stroke-width="1.1"/>
  <text x="183" y="238.5">100mg QD</text>
 </g>
 <text transform="translate(138.2 387.4) scale(0.675 1)" font-size="8.6" text-anchor="middle" fill="#2b2b2b" stroke="#2b2b2b" stroke-width="0.1">Time after dose (days)</text>
 <text transform="translate(13.6 285.5) rotate(-90) scale(0.72 1)" font-size="8" text-anchor="middle" fill="#2b2b2b" stroke="#2b2b2b" stroke-width="0.1">Free - concentrations (nM)</text>

 <!-- chart B -->
 <text x="398.5" y="188.6" font-size="8.25" text-anchor="middle" fill="#231f20">Momelotinib 200 mg QD</text>
 <g fill="none" stroke-linejoin="round" stroke-linecap="butt" stroke-width="1.5">
  <path d="M326.00 363.50 L326.04 352.08 L326.08 341.77 L326.12 332.47 L326.16 324.10 L326.20 316.58 L326.24 309.83 L326.28 303.80 L326.32 298.41 L326.36 293.61 L326.40 289.34 L326.44 285.56 L326.48 282.21 L326.52 279.25 L326.56 276.65 L326.60 274.37 L326.64 272.37 L326.68 270.62 L326.72 269.11 L326.76 267.79 L326.80 266.65 L326.84 265.68 L326.88 264.84 L326.92 264.12 L326.96 263.51 L327.00 263.00 L327.04 262.56 L327.08 262.20 L327.12 261.90 L327.16 261.65 L327.20 261.44 L327.25 261.27 L327.29 261.13 L327.33 261.02 L327.37 260.93 L327.41 260.86 L327.45 260.80 L327.49 260.76 L327.53 260.73 L327.57 260.70 L327.61 260.68 L327.65 260.67 L327.69 260.66 L327.73 260.65 L327.77 260.64 L327.81 260.64 L327.85 260.64 L327.89 260.64 L327.93 260.64 L327.97 260.64 L328.01 260.63 L328.05 260.63 L328.09 260.63 L328.13 260.63 L328.17 260.63 L328.21 260.63 L328.25 260.63 L328.29 260.63 L328.33 260.63 L328.37 260.63 L328.41 260.63 L328.77 260.74 L329.13 261.03 L329.49 261.50 L329.86 262.13 L330.22 262.89 L330.58 263.75 L330.94 264.69 L331.30 265.70 L331.66 266.76 L332.02 267.87 L332.39 269.01 L332.75 270.18 L333.11 271.37 L333.47 272.58 L333.83 273.81 L334.19 275.05 L334.56 276.30 L334.92 277.57 L335.28 278.84 L335.64 280.12 L336.00 281.40 L336.36 282.69 L336.72 283.99 L337.09 285.29 L337.45 286.59 L337.81 287.90 L338.17 289.21 L338.53 290.53 L338.89 291.84 L339.25 293.16 L339.62 294.48 L339.98 295.80 L340.34 297.13 L340.70 298.45 L341.06 299.78 L341.42 301.11 L341.79 302.44 L342.15 303.77 L342.51 305.10 L342.87 306.43 L343.23 307.77 L343.59 309.10 L343.95 310.44 L344.32 311.77 L344.68 313.11 L345.04 314.45 L345.40 315.78 L345.76 317.12 L346.12 318.46 L346.49 319.80 L346.85 321.14 L347.21 322.48 L347.57 323.82 L347.93 325.16 L348.29 326.50 L348.65 327.85 L349.02 329.19 L349.38 330.53 L349.74 331.87 L350.10 333.22 L350.10 333.22 L350.14 325.16 L350.18 317.88 L350.22 311.32 L350.26 305.42 L350.30 300.11 L350.34 295.35 L350.38 291.09 L350.42 287.29 L350.46 283.90 L350.50 280.89 L350.54 278.22 L350.58 275.86 L350.62 273.77 L350.66 271.93 L350.70 270.32 L350.74 268.91 L350.78 267.68 L350.82 266.61 L350.86 265.68 L350.90 264.88 L350.94 264.19 L350.98 263.60 L351.02 263.10 L351.06 262.67 L351.10 262.30 L351.14 262.00 L351.18 261.74 L351.22 261.53 L351.26 261.35 L351.31 261.20 L351.35 261.08 L351.39 260.98 L351.43 260.91 L351.47 260.84 L351.51 260.79 L351.55 260.75 L351.59 260.72 L351.63 260.70 L351.67 260.68 L351.71 260.67 L351.75 260.66 L351.79 260.65 L351.83 260.64 L351.87 260.64 L351.91 260.64 L351.95 260.64 L351.99 260.64 L352.03 260.64 L352.07 260.63 L352.11 260.63 L352.15 260.63 L352.19 260.63 L352.23 260.63 L352.27 260.63 L352.31 260.63 L352.35 260.63 L352.39 260.63 L352.43 260.63 L352.47 260.63 L352.51 260.63 L352.87 260.74 L353.23 261.03 L353.59 261.50 L353.96 262.13 L354.32 262.89 L354.68 263.75 L355.04 264.69 L355.40 265.70 L355.76 266.76 L356.12 267.87 L356.49 269.01 L356.85 270.18 L357.21 271.37 L357.57 272.58 L357.93 273.81 L358.29 275.05 L358.66 276.30 L359.02 277.57 L359.38 278.84 L359.74 280.12 L360.10 281.40 L360.46 282.69 L360.82 283.99 L361.19 285.29 L361.55 286.59 L361.91 287.90 L362.27 289.21 L362.63 290.53 L362.99 291.84 L363.36 293.16 L363.72 294.48 L364.08 295.80 L364.44 297.13 L364.80 298.45 L365.16 299.78 L365.52 301.11 L365.89 302.44 L366.25 303.77 L366.61 305.10 L366.97 306.43 L367.33 307.77 L367.69 309.10 L368.05 310.44 L368.42 311.77 L368.78 313.11 L369.14 314.45 L369.50 315.78 L369.86 317.12 L370.22 318.46 L370.59 319.80 L370.95 321.14 L371.31 322.48 L371.67 323.82 L372.03 325.16 L372.39 326.50 L372.75 327.85 L373.12 329.19 L373.48 330.53 L373.84 331.87 L374.20 333.22 L374.20 333.22 L374.24 325.16 L374.28 317.88 L374.32 311.32 L374.36 305.42 L374.40 300.11 L374.44 295.35 L374.48 291.09 L374.52 287.29 L374.56 283.90 L374.60 280.89 L374.64 278.22 L374.68 275.86 L374.72 273.77 L374.76 271.93 L374.80 270.32 L374.84 268.91 L374.88 267.68 L374.92 266.61 L374.96 265.68 L375.00 264.88 L375.04 264.19 L375.08 263.60 L375.12 263.10 L375.16 262.67 L375.20 262.30 L375.24 262.00 L375.28 261.74 L375.32 261.53 L375.36 261.35 L375.40 261.20 L375.45 261.08 L375.49 260.98 L375.53 260.91 L375.57 260.84 L375.61 260.79 L375.65 260.75 L375.69 260.72 L375.73 260.70 L375.77 260.68 L375.81 260.67 L375.85 260.66 L375.89 260.65 L375.93 260.64 L375.97 260.64 L376.01 260.64 L376.05 260.64 L376.09 260.64 L376.13 260.64 L376.17 260.63 L376.21 260.63 L376.25 260.63 L376.29 260.63 L376.33 260.63 L376.37 260.63 L376.41 260.63 L376.45 260.63 L376.49 260.63 L376.53 260.63 L376.57 260.63 L376.61 260.63 L376.97 260.74 L377.33 261.03 L377.69 261.50 L378.06 262.13 L378.42 262.89 L378.78 263.75 L379.14 264.69 L379.50 265.70 L379.86 266.76 L380.23 267.87 L380.59 269.01 L380.95 270.18 L381.31 271.37 L381.67 272.58 L382.03 273.81 L382.39 275.05 L382.76 276.30 L383.12 277.57 L383.48 278.84 L383.84 280.12 L384.20 281.40 L384.56 282.69 L384.92 283.99 L385.29 285.29 L385.65 286.59 L386.01 287.90 L386.37 289.21 L386.73 290.53 L387.09 291.84 L387.45 293.16 L387.82 294.48 L388.18 295.80 L388.54 297.13 L388.90 298.45 L389.26 299.78 L389.62 301.11 L389.99 302.44 L390.35 303.77 L390.71 305.10 L391.07 306.43 L391.43 307.77 L391.79 309.10 L392.15 310.44 L392.52 311.77 L392.88 313.11 L393.24 314.45 L393.60 315.78 L393.96 317.12 L394.32 318.46 L394.69 319.80 L395.05 321.14 L395.41 322.48 L395.77 323.82 L396.13 325.16 L396.49 326.50 L396.85 327.85 L397.22 329.19 L397.58 330.53 L397.94 331.87 L398.30 333.22 L398.30 333.22 L398.34 325.16 L398.38 317.88 L398.42 311.32 L398.46 305.42 L398.50 300.11 L398.54 295.35 L398.58 291.09 L398.62 287.29 L398.66 283.90 L398.70 280.89 L398.74 278.22 L398.78 275.86 L398.82 273.77 L398.86 271.93 L398.90 270.32 L398.94 268.91 L398.98 267.68 L399.02 266.61 L399.06 265.68 L399.10 264.88 L399.14 264.19 L399.18 263.60 L399.22 263.10 L399.26 262.67 L399.30 262.30 L399.34 262.00 L399.38 261.74 L399.42 261.53 L399.46 261.35 L399.50 261.20 L399.55 261.08 L399.59 260.98 L399.63 260.91 L399.67 260.84 L399.71 260.79 L399.75 260.75 L399.79 260.72 L399.83 260.70 L399.87 260.68 L399.91 260.67 L399.95 260.66 L399.99 260.65 L400.03 260.64 L400.07 260.64 L400.11 260.64 L400.15 260.64 L400.19 260.64 L400.23 260.64 L400.27 260.63 L400.31 260.63 L400.35 260.63 L400.39 260.63 L400.43 260.63 L400.47 260.63 L400.51 260.63 L400.55 260.63 L400.59 260.63 L400.63 260.63 L400.67 260.63 L400.71 260.63 L401.07 260.74 L401.43 261.03 L401.79 261.50 L402.16 262.13 L402.52 262.89 L402.88 263.75 L403.24 264.69 L403.60 265.70 L403.96 266.76 L404.32 267.87 L404.69 269.01 L405.05 270.18 L405.41 271.37 L405.77 272.58 L406.13 273.81 L406.49 275.05 L406.86 276.30 L407.22 277.57 L407.58 278.84 L407.94 280.12 L408.30 281.40 L408.66 282.69 L409.02 283.99 L409.39 285.29 L409.75 286.59 L410.11 287.90 L410.47 289.21 L410.83 290.53 L411.19 291.84 L411.56 293.16 L411.92 294.48 L412.28 295.80 L412.64 297.13 L413.00 298.45 L413.36 299.78 L413.72 301.11 L414.09 302.44 L414.45 303.77 L414.81 305.10 L415.17 306.43 L415.53 307.77 L415.89 309.10 L416.25 310.44 L416.62 311.77 L416.98 313.11 L417.34 314.45 L417.70 315.78 L418.06 317.12 L418.42 318.46 L418.79 319.80 L419.15 321.14 L419.51 322.48 L419.87 323.82 L420.23 325.16 L420.59 326.50 L420.95 327.85 L421.32 329.19 L421.68 330.53 L422.04 331.87 L422.40 333.22 L422.40 333.22 L422.44 325.16 L422.48 317.88 L422.52 311.32 L422.56 305.42 L422.60 300.11 L422.64 295.35 L422.68 291.09 L422.72 287.29 L422.76 283.90 L422.80 280.89 L422.84 278.22 L422.88 275.86 L422.92 273.77 L422.96 271.93 L423.00 270.32 L423.04 268.91 L423.08 267.68 L423.12 266.61 L423.16 265.68 L423.20 264.88 L423.24 264.19 L423.28 263.60 L423.32 263.10 L423.36 262.67 L423.40 262.30 L423.44 262.00 L423.48 261.74 L423.52 261.53 L423.56 261.35 L423.61 261.20 L423.65 261.08 L423.69 260.98 L423.73 260.91 L423.77 260.84 L423.81 260.79 L423.85 260.75 L423.89 260.72 L423.93 260.70 L423.97 260.68 L424.01 260.67 L424.05 260.66 L424.09 260.65 L424.13 260.64 L424.17 260.64 L424.21 260.64 L424.25 260.64 L424.29 260.64 L424.33 260.64 L424.37 260.63 L424.41 260.63 L424.45 260.63 L424.49 260.63 L424.53 260.63 L424.57 260.63 L424.61 260.63 L424.65 260.63 L424.69 260.63 L424.73 260.63 L424.77 260.63 L424.81 260.63 L425.17 260.74 L425.53 261.03 L425.89 261.50 L426.26 262.13 L426.62 262.89 L426.98 263.75 L427.34 264.69 L427.70 265.70 L428.06 266.76 L428.43 267.87 L428.79 269.01 L429.15 270.18 L429.51 271.37 L429.87 272.58 L430.23 273.81 L430.59 275.05 L430.96 276.30 L431.32 277.57 L431.68 278.84 L432.04 280.12 L432.40 281.40 L432.76 282.69 L433.12 283.99 L433.49 285.29 L433.85 286.59 L434.21 287.90 L434.57 289.21 L434.93 290.53 L435.29 291.84 L435.65 293.16 L436.02 294.48 L436.38 295.80 L436.74 297.13 L437.10 298.45 L437.46 299.78 L437.82 301.11 L438.19 302.44 L438.55 303.77 L438.91 305.10 L439.27 306.43 L439.63 307.77 L439.99 309.10 L440.35 310.44 L440.72 311.77 L441.08 313.11 L441.44 314.45 L441.80 315.78 L442.16 317.12 L442.52 318.46 L442.88 319.80 L443.25 321.14 L443.61 322.48 L443.97 323.82 L444.33 325.16 L444.69 326.50 L445.05 327.85 L445.42 329.19 L445.78 330.53 L446.14 331.87 L446.50 333.22 L446.50 333.22 L446.54 325.16 L446.58 317.88 L446.62 311.32 L446.66 305.42 L446.70 300.11 L446.74 295.35 L446.78 291.09 L446.82 287.29 L446.86 283.90 L446.90 280.89 L446.94 278.22 L446.98 275.86 L447.02 273.77 L447.06 271.93 L447.10 270.32 L447.14 268.91 L447.18 267.68 L447.22 266.61 L447.26 265.68 L447.30 264.88 L447.34 264.19 L447.38 263.60 L447.42 263.10 L447.46 262.67 L447.50 262.30 L447.54 262.00 L447.58 261.74 L447.62 261.53 L447.66 261.35 L447.70 261.20 L447.75 261.08 L447.79 260.98 L447.83 260.91 L447.87 260.84 L447.91 260.79 L447.95 260.75 L447.99 260.72 L448.03 260.70 L448.07 260.68 L448.11 260.67 L448.15 260.66 L448.19 260.65 L448.23 260.64 L448.27 260.64 L448.31 260.64 L448.35 260.64 L448.39 260.64 L448.43 260.64 L448.47 260.63 L448.51 260.63 L448.55 260.63 L448.59 260.63 L448.63 260.63 L448.67 260.63 L448.71 260.63 L448.75 260.63 L448.79 260.63 L448.83 260.63 L448.87 260.63 L448.91 260.63 L449.27 260.74 L449.63 261.03 L449.99 261.50 L450.36 262.13 L450.72 262.89 L451.08 263.75 L451.44 264.69 L451.80 265.70 L452.16 266.76 L452.52 267.87 L452.89 269.01 L453.25 270.18 L453.61 271.37 L453.97 272.58 L454.33 273.81 L454.69 275.05 L455.06 276.30 L455.42 277.57 L455.78 278.84 L456.14 280.12 L456.50 281.40 L456.86 282.69 L457.22 283.99 L457.59 285.29 L457.95 286.59 L458.31 287.90 L458.67 289.21 L459.03 290.53 L459.39 291.84 L459.75 293.16 L460.12 294.48 L460.48 295.80 L460.84 297.13 L461.20 298.45 L461.56 299.78 L461.92 301.11 L462.29 302.44 L462.65 303.77 L463.01 305.10 L463.37 306.43 L463.73 307.77 L464.09 309.10 L464.45 310.44 L464.82 311.77 L465.18 313.11 L465.54 314.45 L465.90 315.78 L466.26 317.12 L466.62 318.46 L466.99 319.80 L467.35 321.14 L467.71 322.48 L468.07 323.82 L468.43 325.16 L468.79 326.50 L469.15 327.85 L469.52 329.19 L469.88 330.53 L470.24 331.87 L470.60 333.22 L470.60 333.22 L470.64 325.16 L470.68 317.88 L470.72 311.32 L470.76 305.42 L470.80 300.11 L470.84 295.35 L470.88 291.09 L470.92 287.29 L470.96 283.90 L471.00 280.89 L471.04 278.22 L471.08 275.86 L471.12 273.77 L471.16 271.93 L471.20 270.32 L471.24 268.91 L471.28 267.68 L471.32 266.61 L471.36 265.68 L471.40 264.88 L471.44 264.19 L471.48 263.60 L471.52 263.10 L471.56 262.67 L471.60 262.30 L471.64 262.00 L471.68 261.74 L471.72 261.53 L471.76 261.35 L471.81 261.20 L471.85 261.08 L471.89 260.98 L471.93 260.91 L471.97 260.84 L472.01 260.79 L472.05 260.75 L472.09 260.72 L472.13 260.70 L472.17 260.68 L472.21 260.67 L472.25 260.66 L472.29 260.65 L472.33 260.64 L472.37 260.64 L472.41 260.64 L472.45 260.64 L472.49 260.64 L472.53 260.64 L472.57 260.63 L472.61 260.63 L472.65 260.63 L472.69 260.63 L472.73 260.63 L472.77 260.63 L472.81 260.63 L472.85 260.63 L472.89 260.63 L472.93 260.63 L472.97 260.63 L473.01 260.63 L473.37 260.74 L473.73 261.03 L474.09 261.50 L474.46 262.13 L474.82 262.89 L475.18 263.75 L475.54 264.69 L475.90 265.70 L476.26 266.76 L476.62 267.87 L476.99 269.01 L477.35 270.18 L477.71 271.37 L478.07 272.58 L478.43 273.81 L478.79 275.05 L479.16 276.30 L479.52 277.57 L479.88 278.84 L480.24 280.12 L480.60 281.40 L480.96 282.69 L481.32 283.99 L481.69 285.29 L482.05 286.59 L482.41 287.90 L482.77 289.21 L483.13 290.53 L483.49 291.84 L483.86 293.16 L484.22 294.48 L484.58 295.80 L484.94 297.13 L485.30 298.45 L485.66 299.78 L486.02 301.11 L486.39 302.44 L486.75 303.77 L487.11 305.10 L487.47 306.43 L487.83 307.77 L488.19 309.10 L488.55 310.44 L488.92 311.77 L489.28 313.11 L489.64 314.45 L490.00 315.78 L490.36 317.12 L490.72 318.46 L491.09 319.80 L491.45 321.14 L491.81 322.48 L492.17 323.82 L492.53 325.16 L492.89 326.50 L493.25 327.85 L493.62 329.19 L493.98 330.53 L494.34 331.87 L494.70 333.22" stroke="#ef8a1e"/>
  <path d="M326.00 363.50 L326.05 351.65 L326.10 340.95 L326.14 331.30 L326.19 322.62 L326.24 314.81 L326.29 307.82 L326.34 301.56 L326.39 295.97 L326.43 290.98 L326.48 286.55 L326.53 282.63 L326.58 279.15 L326.63 276.08 L326.67 273.38 L326.72 271.01 L326.77 268.94 L326.82 267.13 L326.87 265.56 L326.92 264.19 L326.96 263.01 L327.01 262.00 L327.06 261.13 L327.11 260.39 L327.16 259.76 L327.20 259.22 L327.25 258.77 L327.30 258.39 L327.35 258.08 L327.40 257.82 L327.45 257.60 L327.49 257.43 L327.54 257.28 L327.59 257.17 L327.64 257.07 L327.69 257.00 L327.74 256.94 L327.78 256.90 L327.83 256.86 L327.88 256.84 L327.93 256.82 L327.98 256.80 L328.02 256.79 L328.07 256.78 L328.12 256.78 L328.17 256.77 L328.22 256.77 L328.27 256.77 L328.31 256.77 L328.36 256.77 L328.41 256.77 L328.46 256.77 L328.51 256.77 L328.55 256.77 L328.60 256.77 L328.65 256.77 L328.70 256.77 L328.75 256.77 L328.80 256.77 L328.84 256.77 L328.89 256.77 L329.25 256.84 L329.60 257.07 L329.95 257.44 L330.31 257.93 L330.66 258.54 L331.01 259.24 L331.37 260.02 L331.72 260.87 L332.07 261.77 L332.43 262.72 L332.78 263.71 L333.13 264.74 L333.49 265.79 L333.84 266.86 L334.19 267.96 L334.55 269.07 L334.90 270.19 L335.25 271.33 L335.61 272.48 L335.96 273.64 L336.31 274.81 L336.67 275.98 L337.02 277.16 L337.38 278.35 L337.73 279.54 L338.08 280.74 L338.44 281.94 L338.79 283.14 L339.14 284.35 L339.50 285.56 L339.85 286.78 L340.20 287.99 L340.56 289.21 L340.91 290.43 L341.26 291.66 L341.62 292.88 L341.97 294.11 L342.32 295.33 L342.68 296.56 L343.03 297.79 L343.38 299.03 L343.74 300.26 L344.09 301.49 L344.44 302.73 L344.80 303.96 L345.15 305.20 L345.50 306.44 L345.86 307.68 L346.21 308.92 L346.57 310.16 L346.92 311.40 L347.27 312.64 L347.63 313.88 L347.98 315.12 L348.33 316.36 L348.69 317.61 L349.04 318.85 L349.39 320.09 L349.75 321.34 L350.10 322.58 L350.10 322.58 L350.15 315.28 L350.20 308.68 L350.24 302.73 L350.29 297.37 L350.34 292.56 L350.39 288.25 L350.44 284.39 L350.49 280.94 L350.53 277.87 L350.58 275.14 L350.63 272.71 L350.68 270.57 L350.73 268.68 L350.77 267.01 L350.82 265.55 L350.87 264.27 L350.92 263.16 L350.97 262.19 L351.02 261.35 L351.06 260.62 L351.11 259.99 L351.16 259.46 L351.21 259.00 L351.26 258.61 L351.31 258.28 L351.35 258.00 L351.40 257.77 L351.45 257.58 L351.50 257.41 L351.55 257.28 L351.59 257.17 L351.64 257.08 L351.69 257.01 L351.74 256.96 L351.79 256.91 L351.84 256.88 L351.88 256.85 L351.93 256.83 L351.98 256.81 L352.03 256.80 L352.08 256.79 L352.12 256.78 L352.17 256.78 L352.22 256.77 L352.27 256.77 L352.32 256.77 L352.37 256.77 L352.41 256.77 L352.46 256.77 L352.51 256.77 L352.56 256.77 L352.61 256.77 L352.65 256.77 L352.70 256.77 L352.75 256.77 L352.80 256.77 L352.85 256.77 L352.90 256.77 L352.94 256.77 L352.99 256.77 L353.35 256.84 L353.70 257.07 L354.05 257.44 L354.41 257.93 L354.76 258.54 L355.11 259.24 L355.47 260.02 L355.82 260.87 L356.17 261.77 L356.53 262.72 L356.88 263.71 L357.23 264.74 L357.59 265.79 L357.94 266.86 L358.29 267.96 L358.65 269.07 L359.00 270.19 L359.35 271.33 L359.71 272.48 L360.06 273.64 L360.41 274.81 L360.77 275.98 L361.12 277.16 L361.48 278.35 L361.83 279.54 L362.18 280.74 L362.54 281.94 L362.89 283.14 L363.24 284.35 L363.60 285.56 L363.95 286.78 L364.30 287.99 L364.66 289.21 L365.01 290.43 L365.36 291.66 L365.72 292.88 L366.07 294.11 L366.42 295.33 L366.78 296.56 L367.13 297.79 L367.48 299.03 L367.84 300.26 L368.19 301.49 L368.54 302.73 L368.90 303.96 L369.25 305.20 L369.60 306.44 L369.96 307.68 L370.31 308.92 L370.67 310.16 L371.02 311.40 L371.37 312.64 L371.73 313.88 L372.08 315.12 L372.43 316.36 L372.79 317.61 L373.14 318.85 L373.49 320.09 L373.85 321.34 L374.20 322.58 L374.20 322.58 L374.25 315.28 L374.30 308.68 L374.34 302.73 L374.39 297.37 L374.44 292.56 L374.49 288.25 L374.54 284.39 L374.59 280.94 L374.63 277.87 L374.68 275.14 L374.73 272.71 L374.78 270.57 L374.83 268.68 L374.87 267.01 L374.92 265.55 L374.97 264.27 L375.02 263.16 L375.07 262.19 L375.12 261.35 L375.16 260.62 L375.21 259.99 L375.26 259.46 L375.31 259.00 L375.36 258.61 L375.40 258.28 L375.45 258.00 L375.50 257.77 L375.55 257.58 L375.60 257.41 L375.65 257.28 L375.69 257.17 L375.74 257.08 L375.79 257.01 L375.84 256.96 L375.89 256.91 L375.94 256.88 L375.98 256.85 L376.03 256.83 L376.08 256.81 L376.13 256.80 L376.18 256.79 L376.22 256.78 L376.27 256.78 L376.32 256.77 L376.37 256.77 L376.42 256.77 L376.47 256.77 L376.51 256.77 L376.56 256.77 L376.61 256.77 L376.66 256.77 L376.71 256.77 L376.75 256.77 L376.80 256.77 L376.85 256.77 L376.90 256.77 L376.95 256.77 L377.00 256.77 L377.04 256.77 L377.09 256.77 L377.45 256.84 L377.80 257.07 L378.15 257.44 L378.51 257.93 L378.86 258.54 L379.21 259.24 L379.57 260.02 L379.92 260.87 L380.27 261.77 L380.63 262.72 L380.98 263.71 L381.33 264.74 L381.69 265.79 L382.04 266.86 L382.39 267.96 L382.75 269.07 L383.10 270.19 L383.45 271.33 L383.81 272.48 L384.16 273.64 L384.51 274.81 L384.87 275.98 L385.22 277.16 L385.58 278.35 L385.93 279.54 L386.28 280.74 L386.64 281.94 L386.99 283.14 L387.34 284.35 L387.70 285.56 L388.05 286.78 L388.40 287.99 L388.76 289.21 L389.11 290.43 L389.46 291.66 L389.82 292.88 L390.17 294.11 L390.52 295.33 L390.88 296.56 L391.23 297.79 L391.58 299.03 L391.94 300.26 L392.29 301.49 L392.64 302.73 L393.00 303.96 L393.35 305.20 L393.70 306.44 L394.06 307.68 L394.41 308.92 L394.77 310.16 L395.12 311.40 L395.47 312.64 L395.83 313.88 L396.18 315.12 L396.53 316.36 L396.89 317.61 L397.24 318.85 L397.59 320.09 L397.95 321.34 L398.30 322.58 L398.30 322.58 L398.35 315.28 L398.40 308.68 L398.44 302.73 L398.49 297.37 L398.54 292.56 L398.59 288.25 L398.64 284.39 L398.69 280.94 L398.73 277.87 L398.78 275.14 L398.83 272.71 L398.88 270.57 L398.93 268.68 L398.97 267.01 L399.02 265.55 L399.07 264.27 L399.12 263.16 L399.17 262.19 L399.22 261.35 L399.26 260.62 L399.31 259.99 L399.36 259.46 L399.41 259.00 L399.46 258.61 L399.50 258.28 L399.55 258.00 L399.60 257.77 L399.65 257.58 L399.70 257.41 L399.75 257.28 L399.79 257.17 L399.84 257.08 L399.89 257.01 L399.94 256.96 L399.99 256.91 L400.04 256.88 L400.08 256.85 L400.13 256.83 L400.18 256.81 L400.23 256.80 L400.28 256.79 L400.32 256.78 L400.37 256.78 L400.42 256.77 L400.47 256.77 L400.52 256.77 L400.57 256.77 L400.61 256.77 L400.66 256.77 L400.71 256.77 L400.76 256.77 L400.81 256.77 L400.85 256.77 L400.90 256.77 L400.95 256.77 L401.00 256.77 L401.05 256.77 L401.10 256.77 L401.14 256.77 L401.19 256.77 L401.55 256.84 L401.90 257.07 L402.25 257.44 L402.61 257.93 L402.96 258.54 L403.31 259.24 L403.67 260.02 L404.02 260.87 L404.37 261.77 L404.73 262.72 L405.08 263.71 L405.43 264.74 L405.79 265.79 L406.14 266.86 L406.49 267.96 L406.85 269.07 L407.20 270.19 L407.55 271.33 L407.91 272.48 L408.26 273.64 L408.61 274.81 L408.97 275.98 L409.32 277.16 L409.68 278.35 L410.03 279.54 L410.38 280.74 L410.74 281.94 L411.09 283.14 L411.44 284.35 L411.80 285.56 L412.15 286.78 L412.50 287.99 L412.86 289.21 L413.21 290.43 L413.56 291.66 L413.92 292.88 L414.27 294.11 L414.62 295.33 L414.98 296.56 L415.33 297.79 L415.68 299.03 L416.04 300.26 L416.39 301.49 L416.74 302.73 L417.10 303.96 L417.45 305.20 L417.80 306.44 L418.16 307.68 L418.51 308.92 L418.87 310.16 L419.22 311.40 L419.57 312.64 L419.93 313.88 L420.28 315.12 L420.63 316.36 L420.99 317.61 L421.34 318.85 L421.69 320.09 L422.05 321.34 L422.40 322.58 L422.40 322.58 L422.45 315.28 L422.50 308.68 L422.54 302.73 L422.59 297.37 L422.64 292.56 L422.69 288.25 L422.74 284.39 L422.79 280.94 L422.83 277.87 L422.88 275.14 L422.93 272.71 L422.98 270.57 L423.03 268.68 L423.07 267.01 L423.12 265.55 L423.17 264.27 L423.22 263.16 L423.27 262.19 L423.32 261.35 L423.36 260.62 L423.41 259.99 L423.46 259.46 L423.51 259.00 L423.56 258.61 L423.61 258.28 L423.65 258.00 L423.70 257.77 L423.75 257.58 L423.80 257.41 L423.85 257.28 L423.89 257.17 L423.94 257.08 L423.99 257.01 L424.04 256.96 L424.09 256.91 L424.14 256.88 L424.18 256.85 L424.23 256.83 L424.28 256.81 L424.33 256.80 L424.38 256.79 L424.42 256.78 L424.47 256.78 L424.52 256.77 L424.57 256.77 L424.62 256.77 L424.67 256.77 L424.71 256.77 L424.76 256.77 L424.81 256.77 L424.86 256.77 L424.91 256.77 L424.95 256.77 L425.00 256.77 L425.05 256.77 L425.10 256.77 L425.15 256.77 L425.20 256.77 L425.24 256.77 L425.29 256.77 L425.65 256.84 L426.00 257.07 L426.35 257.44 L426.71 257.93 L427.06 258.54 L427.41 259.24 L427.77 260.02 L428.12 260.87 L428.47 261.77 L428.83 262.72 L429.18 263.71 L429.53 264.74 L429.89 265.79 L430.24 266.86 L430.59 267.96 L430.95 269.07 L431.30 270.19 L431.65 271.33 L432.01 272.48 L432.36 273.64 L432.71 274.81 L433.07 275.98 L433.42 277.16 L433.78 278.35 L434.13 279.54 L434.48 280.74 L434.84 281.94 L435.19 283.14 L435.54 284.35 L435.90 285.56 L436.25 286.78 L436.60 287.99 L436.96 289.21 L437.31 290.43 L437.66 291.66 L438.02 292.88 L438.37 294.11 L438.72 295.33 L439.08 296.56 L439.43 297.79 L439.78 299.03 L440.14 300.26 L440.49 301.49 L440.84 302.73 L441.20 303.96 L441.55 305.20 L441.90 306.44 L442.26 307.68 L442.61 308.92 L442.97 310.16 L443.32 311.40 L443.67 312.64 L444.03 313.88 L444.38 315.12 L444.73 316.36 L445.09 317.61 L445.44 318.85 L445.79 320.09 L446.15 321.34 L446.50 322.58 L446.50 322.58 L446.55 315.28 L446.60 308.68 L446.64 302.73 L446.69 297.37 L446.74 292.56 L446.79 288.25 L446.84 284.39 L446.89 280.94 L446.93 277.87 L446.98 275.14 L447.03 272.71 L447.08 270.57 L447.13 268.68 L447.17 267.01 L447.22 265.55 L447.27 264.27 L447.32 263.16 L447.37 262.19 L447.42 261.35 L447.46 260.62 L447.51 259.99 L447.56 259.46 L447.61 259.00 L447.66 258.61 L447.70 258.28 L447.75 258.00 L447.80 257.77 L447.85 257.58 L447.90 257.41 L447.95 257.28 L447.99 257.17 L448.04 257.08 L448.09 257.01 L448.14 256.96 L448.19 256.91 L448.24 256.88 L448.28 256.85 L448.33 256.83 L448.38 256.81 L448.43 256.80 L448.48 256.79 L448.52 256.78 L448.57 256.78 L448.62 256.77 L448.67 256.77 L448.72 256.77 L448.77 256.77 L448.81 256.77 L448.86 256.77 L448.91 256.77 L448.96 256.77 L449.01 256.77 L449.05 256.77 L449.10 256.77 L449.15 256.77 L449.20 256.77 L449.25 256.77 L449.30 256.77 L449.34 256.77 L449.39 256.77 L449.75 256.84 L450.10 257.07 L450.45 257.44 L450.81 257.93 L451.16 258.54 L451.51 259.24 L451.87 260.02 L452.22 260.87 L452.57 261.77 L452.93 262.72 L453.28 263.71 L453.63 264.74 L453.99 265.79 L454.34 266.86 L454.69 267.96 L455.05 269.07 L455.40 270.19 L455.75 271.33 L456.11 272.48 L456.46 273.64 L456.81 274.81 L457.17 275.98 L457.52 277.16 L457.88 278.35 L458.23 279.54 L458.58 280.74 L458.94 281.94 L459.29 283.14 L459.64 284.35 L460.00 285.56 L460.35 286.78 L460.70 287.99 L461.06 289.21 L461.41 290.43 L461.76 291.66 L462.12 292.88 L462.47 294.11 L462.82 295.33 L463.18 296.56 L463.53 297.79 L463.88 299.03 L464.24 300.26 L464.59 301.49 L464.94 302.73 L465.30 303.96 L465.65 305.20 L466.00 306.44 L466.36 307.68 L466.71 308.92 L467.07 310.16 L467.42 311.40 L467.77 312.64 L468.13 313.88 L468.48 315.12 L468.83 316.36 L469.19 317.61 L469.54 318.85 L469.89 320.09 L470.25 321.34 L470.60 322.58 L470.60 322.58 L470.65 315.28 L470.70 308.68 L470.74 302.73 L470.79 297.37 L470.84 292.56 L470.89 288.25 L470.94 284.39 L470.99 280.94 L471.03 277.87 L471.08 275.14 L471.13 272.71 L471.18 270.57 L471.23 268.68 L471.27 267.01 L471.32 265.55 L471.37 264.27 L471.42 263.16 L471.47 262.19 L471.52 261.35 L471.56 260.62 L471.61 259.99 L471.66 259.46 L471.71 259.00 L471.76 258.61 L471.81 258.28 L471.85 258.00 L471.90 257.77 L471.95 257.58 L472.00 257.41 L472.05 257.28 L472.09 257.17 L472.14 257.08 L472.19 257.01 L472.24 256.96 L472.29 256.91 L472.34 256.88 L472.38 256.85 L472.43 256.83 L472.48 256.81 L472.53 256.80 L472.58 256.79 L472.62 256.78 L472.67 256.78 L472.72 256.77 L472.77 256.77 L472.82 256.77 L472.87 256.77 L472.91 256.77 L472.96 256.77 L473.01 256.77 L473.06 256.77 L473.11 256.77 L473.15 256.77 L473.20 256.77 L473.25 256.77 L473.30 256.77 L473.35 256.77 L473.40 256.77 L473.44 256.77 L473.49 256.77 L473.85 256.84 L474.20 257.07 L474.55 257.44 L474.91 257.93 L475.26 258.54 L475.61 259.24 L475.97 260.02 L476.32 260.87 L476.67 261.77 L477.03 262.72 L477.38 263.71 L477.73 264.74 L478.09 265.79 L478.44 266.86 L478.79 267.96 L479.15 269.07 L479.50 270.19 L479.85 271.33 L480.21 272.48 L480.56 273.64 L480.91 274.81 L481.27 275.98 L481.62 277.16 L481.98 278.35 L482.33 279.54 L482.68 280.74 L483.04 281.94 L483.39 283.14 L483.74 284.35 L484.10 285.56 L484.45 286.78 L484.80 287.99 L485.16 289.21 L485.51 290.43 L485.86 291.66 L486.22 292.88 L486.57 294.11 L486.92 295.33 L487.28 296.56 L487.63 297.79 L487.98 299.03 L488.34 300.26 L488.69 301.49 L489.04 302.73 L489.40 303.96 L489.75 305.20 L490.10 306.44 L490.46 307.68 L490.81 308.92 L491.17 310.16 L491.52 311.40 L491.87 312.64 L492.23 313.88 L492.58 315.12 L492.93 316.36 L493.29 317.61 L493.64 318.85 L493.99 320.09 L494.35 321.34 L494.70 322.58" stroke="#1f9ad6"/>
  <path d="M326.00 363.50 L326.05 350.95 L326.10 339.61 L326.16 329.39 L326.21 320.18 L326.26 311.92 L326.31 304.50 L326.37 297.87 L326.42 291.95 L326.47 286.67 L326.52 281.97 L326.57 277.81 L326.63 274.13 L326.68 270.88 L326.73 268.02 L326.78 265.51 L326.84 263.31 L326.89 261.40 L326.94 259.73 L326.99 258.28 L327.04 257.03 L327.10 255.96 L327.15 255.04 L327.20 254.25 L327.25 253.58 L327.31 253.01 L327.36 252.54 L327.41 252.14 L327.46 251.80 L327.51 251.53 L327.57 251.30 L327.62 251.11 L327.67 250.96 L327.72 250.84 L327.78 250.74 L327.83 250.66 L327.88 250.60 L327.93 250.55 L327.98 250.52 L328.04 250.49 L328.09 250.47 L328.14 250.45 L328.19 250.44 L328.25 250.43 L328.30 250.43 L328.35 250.42 L328.40 250.42 L328.45 250.42 L328.51 250.42 L328.56 250.42 L328.61 250.42 L328.66 250.42 L328.72 250.42 L328.77 250.42 L328.82 250.42 L328.87 250.42 L328.92 250.42 L328.98 250.42 L329.03 250.42 L329.08 250.42 L329.13 250.42 L329.48 250.47 L329.83 250.64 L330.18 250.92 L330.53 251.30 L330.88 251.77 L331.23 252.33 L331.58 252.97 L331.93 253.67 L332.28 254.44 L332.63 255.25 L332.98 256.12 L333.33 257.02 L333.68 257.96 L334.03 258.94 L334.37 259.93 L334.72 260.96 L335.07 262.00 L335.42 263.06 L335.77 264.14 L336.12 265.23 L336.47 266.33 L336.82 267.45 L337.17 268.58 L337.52 269.71 L337.87 270.86 L338.22 272.01 L338.57 273.17 L338.92 274.33 L339.27 275.50 L339.62 276.67 L339.97 277.85 L340.32 279.04 L340.66 280.23 L341.01 281.42 L341.36 282.61 L341.71 283.81 L342.06 285.01 L342.41 286.22 L342.76 287.42 L343.11 288.63 L343.46 289.84 L343.81 291.05 L344.16 292.27 L344.51 293.48 L344.86 294.70 L345.21 295.92 L345.56 297.14 L345.91 298.36 L346.26 299.59 L346.61 300.81 L346.95 302.04 L347.30 303.26 L347.65 304.49 L348.00 305.72 L348.35 306.95 L348.70 308.18 L349.05 309.41 L349.40 310.64 L349.75 311.88 L350.10 313.11 L350.10 313.11 L350.15 306.15 L350.20 299.87 L350.26 294.20 L350.31 289.10 L350.36 284.51 L350.41 280.40 L350.47 276.72 L350.52 273.44 L350.57 270.51 L350.62 267.91 L350.67 265.60 L350.73 263.56 L350.78 261.76 L350.83 260.18 L350.88 258.78 L350.94 257.57 L350.99 256.50 L351.04 255.58 L351.09 254.78 L351.14 254.08 L351.20 253.49 L351.25 252.98 L351.30 252.54 L351.35 252.17 L351.41 251.86 L351.46 251.59 L351.51 251.37 L351.56 251.18 L351.61 251.03 L351.67 250.90 L351.72 250.80 L351.77 250.72 L351.82 250.65 L351.88 250.59 L351.93 250.55 L351.98 250.52 L352.03 250.49 L352.08 250.47 L352.14 250.46 L352.19 250.44 L352.24 250.44 L352.29 250.43 L352.35 250.42 L352.40 250.42 L352.45 250.42 L352.50 250.42 L352.55 250.42 L352.61 250.42 L352.66 250.42 L352.71 250.42 L352.76 250.42 L352.82 250.42 L352.87 250.42 L352.92 250.42 L352.97 250.42 L353.02 250.42 L353.08 250.42 L353.13 250.42 L353.18 250.42 L353.23 250.42 L353.58 250.47 L353.93 250.64 L354.28 250.92 L354.63 251.30 L354.98 251.77 L355.33 252.33 L355.68 252.97 L356.03 253.67 L356.38 254.44 L356.73 255.25 L357.08 256.12 L357.43 257.02 L357.78 257.96 L358.13 258.94 L358.47 259.93 L358.82 260.96 L359.17 262.00 L359.52 263.06 L359.87 264.14 L360.22 265.23 L360.57 266.33 L360.92 267.45 L361.27 268.58 L361.62 269.71 L361.97 270.86 L362.32 272.01 L362.67 273.17 L363.02 274.33 L363.37 275.50 L363.72 276.67 L364.07 277.85 L364.42 279.04 L364.76 280.23 L365.11 281.42 L365.46 282.61 L365.81 283.81 L366.16 285.01 L366.51 286.22 L366.86 287.42 L367.21 288.63 L367.56 289.84 L367.91 291.05 L368.26 292.27 L368.61 293.48 L368.96 294.70 L369.31 295.92 L369.66 297.14 L370.01 298.36 L370.36 299.59 L370.71 300.81 L371.05 302.04 L371.40 303.26 L371.75 304.49 L372.10 305.72 L372.45 306.95 L372.80 308.18 L373.15 309.41 L373.50 310.64 L373.85 311.88 L374.20 313.11 L374.20 313.11 L374.25 306.15 L374.30 299.87 L374.36 294.20 L374.41 289.10 L374.46 284.51 L374.51 280.40 L374.57 276.72 L374.62 273.44 L374.67 270.51 L374.72 267.91 L374.77 265.60 L374.83 263.56 L374.88 261.76 L374.93 260.18 L374.98 258.78 L375.04 257.57 L375.09 256.50 L375.14 255.58 L375.19 254.78 L375.24 254.08 L375.30 253.49 L375.35 252.98 L375.40 252.54 L375.45 252.17 L375.51 251.86 L375.56 251.59 L375.61 251.37 L375.66 251.18 L375.71 251.03 L375.77 250.90 L375.82 250.80 L375.87 250.72 L375.92 250.65 L375.98 250.59 L376.03 250.55 L376.08 250.52 L376.13 250.49 L376.18 250.47 L376.24 250.46 L376.29 250.44 L376.34 250.44 L376.39 250.43 L376.45 250.42 L376.50 250.42 L376.55 250.42 L376.60 250.42 L376.65 250.42 L376.71 250.42 L376.76 250.42 L376.81 250.42 L376.86 250.42 L376.92 250.42 L376.97 250.42 L377.02 250.42 L377.07 250.42 L377.12 250.42 L377.18 250.42 L377.23 250.42 L377.28 250.42 L377.33 250.42 L377.68 250.47 L378.03 250.64 L378.38 250.92 L378.73 251.30 L379.08 251.77 L379.43 252.33 L379.78 252.97 L380.13 253.67 L380.48 254.44 L380.83 255.25 L381.18 256.12 L381.53 257.02 L381.88 257.96 L382.23 258.94 L382.57 259.93 L382.92 260.96 L383.27 262.00 L383.62 263.06 L383.97 264.14 L384.32 265.23 L384.67 266.33 L385.02 267.45 L385.37 268.58 L385.72 269.71 L386.07 270.86 L386.42 272.01 L386.77 273.17 L387.12 274.33 L387.47 275.50 L387.82 276.67 L388.17 277.85 L388.52 279.04 L388.86 280.23 L389.21 281.42 L389.56 282.61 L389.91 283.81 L390.26 285.01 L390.61 286.22 L390.96 287.42 L391.31 288.63 L391.66 289.84 L392.01 291.05 L392.36 292.27 L392.71 293.48 L393.06 294.70 L393.41 295.92 L393.76 297.14 L394.11 298.36 L394.46 299.59 L394.81 300.81 L395.15 302.04 L395.50 303.26 L395.85 304.49 L396.20 305.72 L396.55 306.95 L396.90 308.18 L397.25 309.41 L397.60 310.64 L397.95 311.88 L398.30 313.11 L398.30 313.11 L398.35 306.15 L398.40 299.87 L398.46 294.20 L398.51 289.10 L398.56 284.51 L398.61 280.40 L398.67 276.72 L398.72 273.44 L398.77 270.51 L398.82 267.91 L398.87 265.60 L398.93 263.56 L398.98 261.76 L399.03 260.18 L399.08 258.78 L399.14 257.57 L399.19 256.50 L399.24 255.58 L399.29 254.78 L399.34 254.08 L399.40 253.49 L399.45 252.98 L399.50 252.54 L399.55 252.17 L399.61 251.86 L399.66 251.59 L399.71 251.37 L399.76 251.18 L399.81 251.03 L399.87 250.90 L399.92 250.80 L399.97 250.72 L400.02 250.65 L400.08 250.59 L400.13 250.55 L400.18 250.52 L400.23 250.49 L400.28 250.47 L400.34 250.46 L400.39 250.44 L400.44 250.44 L400.49 250.43 L400.55 250.42 L400.60 250.42 L400.65 250.42 L400.70 250.42 L400.75 250.42 L400.81 250.42 L400.86 250.42 L400.91 250.42 L400.96 250.42 L401.02 250.42 L401.07 250.42 L401.12 250.42 L401.17 250.42 L401.22 250.42 L401.28 250.42 L401.33 250.42 L401.38 250.42 L401.43 250.42 L401.78 250.47 L402.13 250.64 L402.48 250.92 L402.83 251.30 L403.18 251.77 L403.53 252.33 L403.88 252.97 L404.23 253.67 L404.58 254.44 L404.93 255.25 L405.28 256.12 L405.63 257.02 L405.98 257.96 L406.33 258.94 L406.67 259.93 L407.02 260.96 L407.37 262.00 L407.72 263.06 L408.07 264.14 L408.42 265.23 L408.77 266.33 L409.12 267.45 L409.47 268.58 L409.82 269.71 L410.17 270.86 L410.52 272.01 L410.87 273.17 L411.22 274.33 L411.57 275.50 L411.92 276.67 L412.27 277.85 L412.62 279.04 L412.96 280.23 L413.31 281.42 L413.66 282.61 L414.01 283.81 L414.36 285.01 L414.71 286.22 L415.06 287.42 L415.41 288.63 L415.76 289.84 L416.11 291.05 L416.46 292.27 L416.81 293.48 L417.16 294.70 L417.51 295.92 L417.86 297.14 L418.21 298.36 L418.56 299.59 L418.91 300.81 L419.25 302.04 L419.60 303.26 L419.95 304.49 L420.30 305.72 L420.65 306.95 L421.00 308.18 L421.35 309.41 L421.70 310.64 L422.05 311.88 L422.40 313.11 L422.40 313.11 L422.45 306.15 L422.50 299.87 L422.56 294.20 L422.61 289.10 L422.66 284.51 L422.71 280.40 L422.77 276.72 L422.82 273.44 L422.87 270.51 L422.92 267.91 L422.97 265.60 L423.03 263.56 L423.08 261.76 L423.13 260.18 L423.18 258.78 L423.24 257.57 L423.29 256.50 L423.34 255.58 L423.39 254.78 L423.44 254.08 L423.50 253.49 L423.55 252.98 L423.60 252.54 L423.65 252.17 L423.71 251.86 L423.76 251.59 L423.81 251.37 L423.86 251.18 L423.91 251.03 L423.97 250.90 L424.02 250.80 L424.07 250.72 L424.12 250.65 L424.18 250.59 L424.23 250.55 L424.28 250.52 L424.33 250.49 L424.38 250.47 L424.44 250.46 L424.49 250.44 L424.54 250.44 L424.59 250.43 L424.65 250.42 L424.70 250.42 L424.75 250.42 L424.80 250.42 L424.85 250.42 L424.91 250.42 L424.96 250.42 L425.01 250.42 L425.06 250.42 L425.12 250.42 L425.17 250.42 L425.22 250.42 L425.27 250.42 L425.32 250.42 L425.38 250.42 L425.43 250.42 L425.48 250.42 L425.53 250.42 L425.88 250.47 L426.23 250.64 L426.58 250.92 L426.93 251.30 L427.28 251.77 L427.63 252.33 L427.98 252.97 L428.33 253.67 L428.68 254.44 L429.03 255.25 L429.38 256.12 L429.73 257.02 L430.08 257.96 L430.43 258.94 L430.77 259.93 L431.12 260.96 L431.47 262.00 L431.82 263.06 L432.17 264.14 L432.52 265.23 L432.87 266.33 L433.22 267.45 L433.57 268.58 L433.92 269.71 L434.27 270.86 L434.62 272.01 L434.97 273.17 L435.32 274.33 L435.67 275.50 L436.02 276.67 L436.37 277.85 L436.72 279.04 L437.06 280.23 L437.41 281.42 L437.76 282.61 L438.11 283.81 L438.46 285.01 L438.81 286.22 L439.16 287.42 L439.51 288.63 L439.86 289.84 L440.21 291.05 L440.56 292.27 L440.91 293.48 L441.26 294.70 L441.61 295.92 L441.96 297.14 L442.31 298.36 L442.66 299.59 L443.01 300.81 L443.35 302.04 L443.70 303.26 L444.05 304.49 L444.40 305.72 L444.75 306.95 L445.10 308.18 L445.45 309.41 L445.80 310.64 L446.15 311.88 L446.50 313.11 L446.50 313.11 L446.55 306.15 L446.60 299.87 L446.66 294.20 L446.71 289.10 L446.76 284.51 L446.81 280.40 L446.87 276.72 L446.92 273.44 L446.97 270.51 L447.02 267.91 L447.07 265.60 L447.13 263.56 L447.18 261.76 L447.23 260.18 L447.28 258.78 L447.34 257.57 L447.39 256.50 L447.44 255.58 L447.49 254.78 L447.54 254.08 L447.60 253.49 L447.65 252.98 L447.70 252.54 L447.75 252.17 L447.81 251.86 L447.86 251.59 L447.91 251.37 L447.96 251.18 L448.01 251.03 L448.07 250.90 L448.12 250.80 L448.17 250.72 L448.22 250.65 L448.28 250.59 L448.33 250.55 L448.38 250.52 L448.43 250.49 L448.48 250.47 L448.54 250.46 L448.59 250.44 L448.64 250.44 L448.69 250.43 L448.75 250.42 L448.80 250.42 L448.85 250.42 L448.90 250.42 L448.95 250.42 L449.01 250.42 L449.06 250.42 L449.11 250.42 L449.16 250.42 L449.22 250.42 L449.27 250.42 L449.32 250.42 L449.37 250.42 L449.42 250.42 L449.48 250.42 L449.53 250.42 L449.58 250.42 L449.63 250.42 L449.98 250.47 L450.33 250.64 L450.68 250.92 L451.03 251.30 L451.38 251.77 L451.73 252.33 L452.08 252.97 L452.43 253.67 L452.78 254.44 L453.13 255.25 L453.48 256.12 L453.83 257.02 L454.18 257.96 L454.53 258.94 L454.87 259.93 L455.22 260.96 L455.57 262.00 L455.92 263.06 L456.27 264.14 L456.62 265.23 L456.97 266.33 L457.32 267.45 L457.67 268.58 L458.02 269.71 L458.37 270.86 L458.72 272.01 L459.07 273.17 L459.42 274.33 L459.77 275.50 L460.12 276.67 L460.47 277.85 L460.82 279.04 L461.16 280.23 L461.51 281.42 L461.86 282.61 L462.21 283.81 L462.56 285.01 L462.91 286.22 L463.26 287.42 L463.61 288.63 L463.96 289.84 L464.31 291.05 L464.66 292.27 L465.01 293.48 L465.36 294.70 L465.71 295.92 L466.06 297.14 L466.41 298.36 L466.76 299.59 L467.11 300.81 L467.45 302.04 L467.80 303.26 L468.15 304.49 L468.50 305.72 L468.85 306.95 L469.20 308.18 L469.55 309.41 L469.90 310.64 L470.25 311.88 L470.60 313.11 L470.60 313.11 L470.65 306.15 L470.70 299.87 L470.76 294.20 L470.81 289.10 L470.86 284.51 L470.91 280.40 L470.97 276.72 L471.02 273.44 L471.07 270.51 L471.12 267.91 L471.17 265.60 L471.23 263.56 L471.28 261.76 L471.33 260.18 L471.38 258.78 L471.44 257.57 L471.49 256.50 L471.54 255.58 L471.59 254.78 L471.64 254.08 L471.70 253.49 L471.75 252.98 L471.80 252.54 L471.85 252.17 L471.91 251.86 L471.96 251.59 L472.01 251.37 L472.06 251.18 L472.11 251.03 L472.17 250.90 L472.22 250.80 L472.27 250.72 L472.32 250.65 L472.38 250.59 L472.43 250.55 L472.48 250.52 L472.53 250.49 L472.58 250.47 L472.64 250.46 L472.69 250.44 L472.74 250.44 L472.79 250.43 L472.85 250.42 L472.90 250.42 L472.95 250.42 L473.00 250.42 L473.05 250.42 L473.11 250.42 L473.16 250.42 L473.21 250.42 L473.26 250.42 L473.32 250.42 L473.37 250.42 L473.42 250.42 L473.47 250.42 L473.52 250.42 L473.58 250.42 L473.63 250.42 L473.68 250.42 L473.73 250.42 L474.08 250.47 L474.43 250.64 L474.78 250.92 L475.13 251.30 L475.48 251.77 L475.83 252.33 L476.18 252.97 L476.53 253.67 L476.88 254.44 L477.23 255.25 L477.58 256.12 L477.93 257.02 L478.28 257.96 L478.63 258.94 L478.97 259.93 L479.32 260.96 L479.67 262.00 L480.02 263.06 L480.37 264.14 L480.72 265.23 L481.07 266.33 L481.42 267.45 L481.77 268.58 L482.12 269.71 L482.47 270.86 L482.82 272.01 L483.17 273.17 L483.52 274.33 L483.87 275.50 L484.22 276.67 L484.57 277.85 L484.92 279.04 L485.26 280.23 L485.61 281.42 L485.96 282.61 L486.31 283.81 L486.66 285.01 L487.01 286.22 L487.36 287.42 L487.71 288.63 L488.06 289.84 L488.41 291.05 L488.76 292.27 L489.11 293.48 L489.46 294.70 L489.81 295.92 L490.16 297.14 L490.51 298.36 L490.86 299.59 L491.21 300.81 L491.55 302.04 L491.90 303.26 L492.25 304.49 L492.60 305.72 L492.95 306.95 L493.30 308.18 L493.65 309.41 L494.00 310.64 L494.35 311.88 L494.70 313.11" stroke="#35165e"/>
 </g>
 <line x1="292.6" y1="282.4" x2="503.7" y2="282.4" stroke="#2a2a2a" stroke-width="1.05" stroke-dasharray="4.2 3.2"/>
 <g stroke="#2b2b2b" stroke-width="1" fill="none">
  <path d="M292.6 206.3 V363.6 H503.7"/>
  <line x1="289.4" y1="330.25" x2="292.6" y2="330.25"/><line x1="289.4" y1="302.75" x2="292.6" y2="302.75"/><line x1="289.4" y1="275.25" x2="292.6" y2="275.25"/><line x1="289.4" y1="247.75" x2="292.6" y2="247.75"/><line x1="289.4" y1="220.25" x2="292.6" y2="220.25"/><line x1="326.00" y1="363.6" x2="326.00" y2="366.6"/><line x1="350.10" y1="363.6" x2="350.10" y2="366.6"/><line x1="374.20" y1="363.6" x2="374.20" y2="366.6"/><line x1="398.30" y1="363.6" x2="398.30" y2="366.6"/><line x1="422.40" y1="363.6" x2="422.40" y2="366.6"/><line x1="446.50" y1="363.6" x2="446.50" y2="366.6"/><line x1="470.60" y1="363.6" x2="470.60" y2="366.6"/><line x1="494.70" y1="363.6" x2="494.70" y2="366.6"/>
 </g>
 <g font-size="6.3" fill="#333"><text x="286.6" y="332.45" text-anchor="end">1</text><text x="286.6" y="304.95" text-anchor="end">10</text><text x="286.6" y="277.45" text-anchor="end">100</text><text x="286.6" y="249.95" text-anchor="end">1000</text><text x="286.6" y="222.45" text-anchor="end">10000</text><text x="326.00" y="375.6" text-anchor="middle">0</text><text x="350.10" y="375.6" text-anchor="middle">1</text><text x="374.20" y="375.6" text-anchor="middle">2</text><text x="398.30" y="375.6" text-anchor="middle">3</text><text x="422.40" y="375.6" text-anchor="middle">4</text><text x="446.50" y="375.6" text-anchor="middle">5</text><text x="470.60" y="375.6" text-anchor="middle">6</text><text x="494.70" y="375.6" text-anchor="middle">7</text></g>
 <g font-size="6.05" fill="#56779a">
  <text x="297" y="290.8">IC<tspan font-size="4" dy="1.2">50</tspan><tspan dy="-1.2"> ≈</tspan></text>
  <text x="297" y="297.6">52.6 nM</text>
 </g>
 <g font-size="5.9" fill="#2e2e2e">
  <line x1="427" y1="217" x2="434" y2="217" stroke="#ef8a1e" stroke-width="1.1"/>
  <text x="436.8" y="219">MMB (free)</text>
  <line x1="427" y1="226.2" x2="434" y2="226.2" stroke="#1f9ad6" stroke-width="1.1"/>
  <text x="436.8" y="228.2">M21 (free)</text>
  <line x1="427" y1="235" x2="434" y2="235" stroke="#35165e" stroke-width="1.1"/>
  <text x="436.8" y="237">MMB+M21 (free)</text>
 </g>
 <text transform="translate(398.2 387.4) scale(0.675 1)" font-size="8.6" text-anchor="middle" fill="#2b2b2b" stroke="#2b2b2b" stroke-width="0.1">Time after dose (days)</text>
 <text transform="translate(262.8 285) rotate(-90) scale(0.72 1)" font-size="8" text-anchor="middle" fill="#2b2b2b" stroke="#2b2b2b" stroke-width="0.1">Free - concentration  (nM)</text>
</svg>

<!-- footer -->
<div class="abs ft" style="left:6.7px;top:404.7px;">Abbreviations: ACVR1, activin A receptor type I; BID, twice daily; C<sub>max</sub>, maximum concentration; FED, fedratinib; IC<sub>50</sub>, half maximal<br>inhibitory concentration; JAK2, Janus associated kinase 2; M21; momelotinib metabolite; MMB, momelotinib; PAC, pacritinib;<br>QD, once daily; RUX, ruxolitinib.<br><br><span style="letter-spacing:0.03px">C<sub>max</sub> based on published data for pacritinib<sup>29</sup>, momelotinib<sup>24,30</sup>, fedratinib<sup>31</sup>, ruxolitinib<sup>32,33</sup> as shown in Supplementary Materials.</span></div>
</body></html>
